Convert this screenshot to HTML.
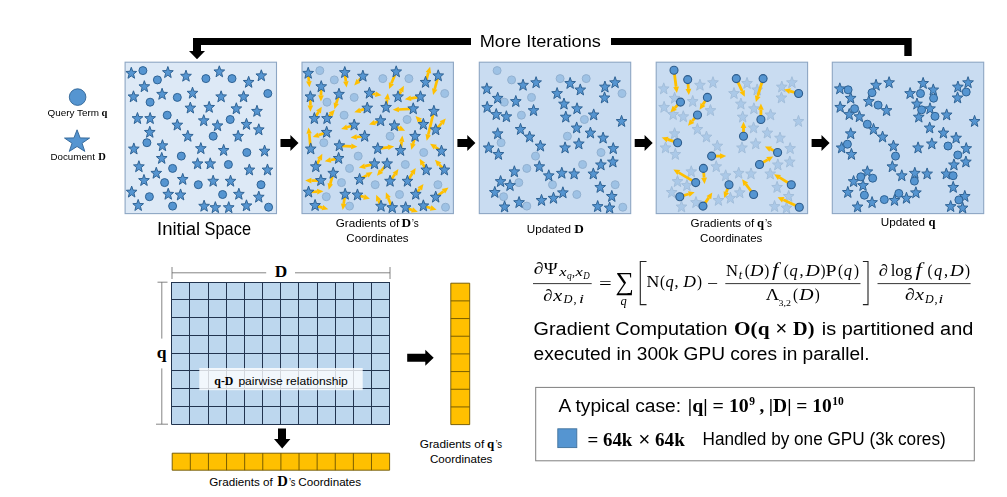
<!DOCTYPE html>
<html><head><meta charset="utf-8"><title>Diagram</title>
<style>html,body{margin:0;padding:0;background:#fff;}body{width:1007px;height:497px;overflow:hidden;font-family:"Liberation Sans",sans-serif;}svg{display:block;}</style>
</head><body>
<svg width="1007" height="497" viewBox="0 0 1007 497">
<rect width="1007" height="497" fill="#fff"/>
<defs><filter id="sb" x="-2%" y="-2%" width="104%" height="104%"><feGaussianBlur stdDeviation="0.38"/></filter></defs>
<g filter="url(#sb)">
<rect x="125.1" y="62.2" width="151.4" height="151.4" fill="#dde9f6" stroke="#8da6c4" stroke-width="1.1"/>
<rect x="302.0" y="62.2" width="151.4" height="151.4" fill="#c9dcf1" stroke="#8da6c4" stroke-width="1.1"/>
<rect x="479.3" y="62.2" width="151.4" height="151.4" fill="#c9dcf1" stroke="#8da6c4" stroke-width="1.1"/>
<rect x="656.2" y="62.2" width="151.4" height="151.4" fill="#c9dcf1" stroke="#8da6c4" stroke-width="1.1"/>
<rect x="832.3" y="62.2" width="151.4" height="151.4" fill="#c9dcf1" stroke="#8da6c4" stroke-width="1.1"/>
<path d="M131.30 67.25 L132.69 71.28 L136.67 71.47 L133.56 74.15 L134.62 78.29 L131.30 75.92 L127.98 78.29 L129.04 74.15 L125.92 71.47 L129.90 71.28Z M167.88 66.53 L169.27 70.56 L173.25 70.75 L170.14 73.42 L171.20 77.57 L167.88 75.19 L164.56 77.57 L165.62 73.42 L162.51 70.75 L166.48 70.56Z M185.99 70.15 L187.38 74.18 L191.36 74.37 L188.25 77.05 L189.31 81.19 L185.99 78.82 L182.67 81.19 L183.73 77.05 L180.62 74.37 L184.59 74.18Z M219.31 65.80 L220.70 69.83 L224.68 70.02 L221.57 72.70 L222.63 76.84 L219.31 74.47 L215.99 76.84 L217.05 72.70 L213.94 70.02 L217.92 69.83Z M248.65 76.31 L250.04 80.34 L254.02 80.52 L250.90 83.20 L251.97 87.35 L248.65 84.97 L245.33 87.35 L246.39 83.20 L243.27 80.52 L247.25 80.34Z M261.32 69.79 L262.72 73.82 L266.70 74.01 L263.58 76.68 L264.64 80.83 L261.32 78.45 L258.00 80.83 L259.07 76.68 L255.95 74.01 L259.93 73.82Z M144.34 80.65 L145.73 84.68 L149.71 84.87 L146.59 87.55 L147.66 91.69 L144.34 89.32 L141.02 91.69 L142.08 87.55 L138.96 84.87 L142.94 84.68Z M133.47 90.80 L134.87 94.82 L138.85 95.01 L135.73 97.69 L136.79 101.83 L133.47 99.46 L130.15 101.83 L131.21 97.69 L128.10 95.01 L132.08 94.82Z M162.08 88.26 L163.48 92.29 L167.46 92.48 L164.34 95.15 L165.41 99.30 L162.08 96.93 L158.76 99.30 L159.83 95.15 L156.71 92.48 L160.69 92.29Z M192.51 87.17 L193.90 91.20 L197.88 91.39 L194.77 94.07 L195.83 98.21 L192.51 95.84 L189.19 98.21 L190.25 94.07 L187.13 91.39 L191.11 91.20Z M221.12 90.80 L222.52 94.82 L226.49 95.01 L223.38 97.69 L224.44 101.83 L221.12 99.46 L217.80 101.83 L218.86 97.69 L215.75 95.01 L219.73 94.82Z M243.58 90.80 L244.97 94.82 L248.95 95.01 L245.83 97.69 L246.90 101.83 L243.58 99.46 L240.26 101.83 L241.32 97.69 L238.20 95.01 L242.18 94.82Z M190.34 102.02 L191.73 106.05 L195.71 106.24 L192.59 108.92 L193.66 113.06 L190.34 110.69 L187.01 113.06 L188.08 108.92 L184.96 106.24 L188.94 106.05Z M209.17 101.30 L210.56 105.33 L214.54 105.52 L211.43 108.19 L212.49 112.34 L209.17 109.96 L205.85 112.34 L206.91 108.19 L203.80 105.52 L207.77 105.33Z M236.33 102.75 L237.73 106.78 L241.71 106.96 L238.59 109.64 L239.65 113.79 L236.33 111.41 L233.01 113.79 L234.08 109.64 L230.96 106.96 L234.94 106.78Z M256.98 105.28 L258.37 109.31 L262.35 109.50 L259.23 112.18 L260.30 116.32 L256.98 113.95 L253.66 116.32 L254.72 112.18 L251.60 109.50 L255.58 109.31Z M137.46 112.53 L138.85 116.56 L142.83 116.74 L139.71 119.42 L140.78 123.57 L137.46 121.19 L134.13 123.57 L135.20 119.42 L132.08 116.74 L136.06 116.56Z M150.13 112.53 L151.53 116.56 L155.51 116.74 L152.39 119.42 L153.45 123.57 L150.13 121.19 L146.81 123.57 L147.88 119.42 L144.76 116.74 L148.74 116.56Z M203.74 114.70 L205.13 118.73 L209.11 118.92 L205.99 121.59 L207.06 125.74 L203.74 123.37 L200.41 125.74 L201.48 121.59 L198.36 118.92 L202.34 118.73Z M177.30 119.05 L178.69 123.08 L182.67 123.26 L179.55 125.94 L180.62 130.09 L177.30 127.71 L173.98 130.09 L175.04 125.94 L171.92 123.26 L175.90 123.08Z M217.50 119.77 L218.89 123.80 L222.87 123.99 L219.76 126.66 L220.82 130.81 L217.50 128.44 L214.18 130.81 L215.24 126.66 L212.13 123.99 L216.10 123.80Z M246.47 118.32 L247.87 122.35 L251.85 122.54 L248.73 125.22 L249.80 129.36 L246.47 126.99 L243.15 129.36 L244.22 125.22 L241.10 122.54 L245.08 122.35Z M258.79 123.75 L260.18 127.78 L264.16 127.97 L261.05 130.65 L262.11 134.79 L258.79 132.42 L255.47 134.79 L256.53 130.65 L253.42 127.97 L257.39 127.78Z M149.77 126.29 L151.16 130.32 L155.14 130.51 L152.03 133.18 L153.09 137.33 L149.77 134.96 L146.45 137.33 L147.51 133.18 L144.40 130.51 L148.38 130.32Z M187.80 130.27 L189.19 134.30 L193.17 134.49 L190.06 137.17 L191.12 141.31 L187.80 138.94 L184.48 141.31 L185.54 137.17 L182.43 134.49 L186.40 134.30Z M238.14 130.27 L239.54 134.30 L243.52 134.49 L240.40 137.17 L241.46 141.31 L238.14 138.94 L234.82 141.31 L235.89 137.17 L232.77 134.49 L236.75 134.30Z M162.45 139.69 L163.84 143.72 L167.82 143.91 L164.70 146.59 L165.77 150.73 L162.45 148.36 L159.13 150.73 L160.19 146.59 L157.07 143.91 L161.05 143.72Z M133.83 142.95 L135.23 146.98 L139.21 147.17 L136.09 149.84 L137.15 153.99 L133.83 151.62 L130.51 153.99 L131.58 149.84 L128.46 147.17 L132.44 146.98Z M200.84 142.59 L202.23 146.62 L206.21 146.81 L203.10 149.48 L204.16 153.63 L200.84 151.25 L197.52 153.63 L198.58 149.48 L195.46 146.81 L199.44 146.62Z M223.66 144.40 L225.05 148.43 L229.03 148.62 L225.91 151.29 L226.98 155.44 L223.66 153.06 L220.34 155.44 L221.40 151.29 L218.28 148.62 L222.26 148.43Z M264.58 145.12 L265.98 149.15 L269.96 149.34 L266.84 152.02 L267.90 156.16 L264.58 153.79 L261.26 156.16 L262.33 152.02 L259.21 149.34 L263.19 149.15Z M161.72 152.37 L163.12 156.40 L167.10 156.58 L163.98 159.26 L165.04 163.41 L161.72 161.03 L158.40 163.41 L159.47 159.26 L156.35 156.58 L160.33 156.40Z M197.58 157.80 L198.97 161.83 L202.95 162.02 L199.84 164.69 L200.90 168.84 L197.58 166.47 L194.26 168.84 L195.32 164.69 L192.21 162.02 L196.18 161.83Z M210.26 157.80 L211.65 161.83 L215.63 162.02 L212.51 164.69 L213.58 168.84 L210.26 166.47 L206.93 168.84 L208.00 164.69 L204.88 162.02 L208.86 161.83Z M138.90 160.70 L140.30 164.73 L144.28 164.91 L141.16 167.59 L142.23 171.74 L138.90 169.36 L135.58 171.74 L136.65 167.59 L133.53 164.91 L137.51 164.73Z M249.37 163.96 L250.77 167.99 L254.75 168.17 L251.63 170.85 L252.69 175.00 L249.37 172.62 L246.05 175.00 L247.11 170.85 L244.00 168.17 L247.98 167.99Z M267.48 163.96 L268.88 167.99 L272.85 168.17 L269.74 170.85 L270.80 175.00 L267.48 172.62 L264.16 175.00 L265.22 170.85 L262.11 168.17 L266.09 167.99Z M156.29 167.22 L157.68 171.25 L161.66 171.43 L158.55 174.11 L159.61 178.26 L156.29 175.88 L152.97 178.26 L154.03 174.11 L150.92 171.43 L154.89 171.25Z M143.98 174.46 L145.37 178.49 L149.35 178.68 L146.23 181.36 L147.30 185.50 L143.98 183.13 L140.65 185.50 L141.72 181.36 L138.60 178.68 L142.58 178.49Z M182.73 173.37 L184.12 177.40 L188.10 177.59 L184.99 180.27 L186.05 184.41 L182.73 182.04 L179.41 184.41 L180.47 180.27 L177.36 177.59 L181.33 177.40Z M213.15 175.19 L214.55 179.21 L218.53 179.40 L215.41 182.08 L216.47 186.22 L213.15 183.85 L209.83 186.22 L210.90 182.08 L207.78 179.40 L211.76 179.21Z M230.54 175.19 L231.93 179.21 L235.91 179.40 L232.79 182.08 L233.86 186.22 L230.54 183.85 L227.22 186.22 L228.28 182.08 L225.16 179.40 L229.14 179.21Z M131.66 186.05 L133.06 190.08 L137.03 190.27 L133.92 192.95 L134.98 197.09 L131.66 194.72 L128.34 197.09 L129.40 192.95 L126.29 190.27 L130.27 190.08Z M168.24 188.22 L169.64 192.25 L173.62 192.44 L170.50 195.12 L171.56 199.26 L168.24 196.89 L164.92 199.26 L165.98 195.12 L162.87 192.44 L166.85 192.25Z M180.56 188.95 L181.95 192.98 L185.93 193.17 L182.81 195.84 L183.88 199.99 L180.56 197.61 L177.23 199.99 L178.30 195.84 L175.18 193.17 L179.16 192.98Z M238.87 188.22 L240.26 192.25 L244.24 192.44 L241.13 195.12 L242.19 199.26 L238.87 196.89 L235.55 199.26 L236.61 195.12 L233.49 192.44 L237.47 192.25Z M258.79 191.12 L260.18 195.15 L264.16 195.34 L261.05 198.02 L262.11 202.16 L258.79 199.79 L255.47 202.16 L256.53 198.02 L253.42 195.34 L257.39 195.15Z M138.18 199.45 L139.57 203.48 L143.55 203.67 L140.44 206.35 L141.50 210.49 L138.18 208.12 L134.86 210.49 L135.92 206.35 L132.81 203.67 L136.79 203.48Z M204.10 200.18 L205.49 204.21 L209.47 204.39 L206.36 207.07 L207.42 211.22 L204.10 208.84 L200.78 211.22 L201.84 207.07 L198.72 204.39 L202.70 204.21Z M215.33 201.63 L216.72 205.65 L220.70 205.84 L217.58 208.52 L218.65 212.66 L215.33 210.29 L212.00 212.66 L213.07 208.52 L209.95 205.84 L213.93 205.65Z M228.73 201.63 L230.12 205.65 L234.10 205.84 L230.98 208.52 L232.05 212.66 L228.73 210.29 L225.41 212.66 L226.47 208.52 L223.35 205.84 L227.33 205.65Z M246.47 199.81 L247.87 203.84 L251.85 204.03 L248.73 206.71 L249.80 210.85 L246.47 208.48 L243.15 210.85 L244.22 206.71 L241.10 204.03 L245.08 203.84Z" fill="#5595d1" stroke="#2f6395" stroke-width="1.0" stroke-linejoin="miter" opacity="1.0"/>
<g fill="#5595d1" stroke="#2f6395" stroke-width="1.0" opacity="1.0"><circle cx="142.9" cy="70.6" r="4.0"/><circle cx="157.4" cy="79.9" r="4.0"/><circle cx="205.9" cy="78.6" r="4.0"/><circle cx="232.0" cy="78.6" r="4.0"/><circle cx="150.1" cy="102.2" r="4.0"/><circle cx="177.3" cy="97.4" r="4.0"/><circle cx="267.8" cy="93.5" r="4.0"/><circle cx="167.2" cy="115.2" r="4.0"/><circle cx="230.2" cy="119.5" r="4.0"/><circle cx="213.2" cy="136.2" r="4.0"/><circle cx="146.9" cy="142.7" r="4.0"/><circle cx="246.8" cy="152.5" r="4.0"/><circle cx="181.3" cy="156.1" r="4.0"/><circle cx="228.4" cy="164.5" r="4.0"/><circle cx="172.6" cy="168.4" r="4.0"/><circle cx="164.6" cy="182.6" r="4.0"/><circle cx="198.3" cy="184.7" r="4.0"/><circle cx="261.0" cy="184.7" r="4.0"/><circle cx="222.6" cy="194.5" r="4.0"/><circle cx="149.4" cy="196.7" r="4.0"/><circle cx="172.6" cy="206.1" r="4.0"/><circle cx="268.6" cy="207.2" r="4.0"/></g>
<g fill="#5595d1" stroke="#2f6395" stroke-width="1.0" opacity="0.36"><circle cx="319.8" cy="70.6" r="4.0"/><circle cx="334.3" cy="79.9" r="4.0"/><circle cx="382.8" cy="78.6" r="4.0"/><circle cx="408.9" cy="78.6" r="4.0"/><circle cx="327.0" cy="102.2" r="4.0"/><circle cx="354.2" cy="97.4" r="4.0"/><circle cx="444.7" cy="93.5" r="4.0"/><circle cx="344.1" cy="115.2" r="4.0"/><circle cx="407.1" cy="119.5" r="4.0"/><circle cx="390.1" cy="136.2" r="4.0"/><circle cx="323.8" cy="142.7" r="4.0"/><circle cx="423.7" cy="152.5" r="4.0"/><circle cx="358.2" cy="156.1" r="4.0"/><circle cx="405.3" cy="164.5" r="4.0"/><circle cx="349.5" cy="168.4" r="4.0"/><circle cx="341.5" cy="182.6" r="4.0"/><circle cx="375.2" cy="184.7" r="4.0"/><circle cx="437.9" cy="184.7" r="4.0"/><circle cx="399.5" cy="194.5" r="4.0"/><circle cx="326.3" cy="196.7" r="4.0"/><circle cx="349.5" cy="206.1" r="4.0"/><circle cx="445.5" cy="207.2" r="4.0"/></g>
<path d="M308.4 75.3L308.9 81.2" stroke="#ffc000" stroke-width="2.7" fill="none"/>
<path d="M309.5 87.3L306.1 81.4L311.7 80.9Z" fill="#ffc000"/>
<path d="M345.0 74.6L345.9 81.4" stroke="#ffc000" stroke-width="2.7" fill="none"/>
<path d="M346.6 87.5L343.1 81.7L348.6 81.0Z" fill="#ffc000"/>
<path d="M361.5 77.7L358.5 80.9" stroke="#ffc000" stroke-width="2.7" fill="none"/>
<path d="M354.2 85.4L356.4 79.0L360.5 82.8Z" fill="#ffc000"/>
<path d="M395.4 73.8L391.4 83.3" stroke="#ffc000" stroke-width="2.7" fill="none"/>
<path d="M389.0 89.1L388.8 82.3L394.0 84.4Z" fill="#ffc000"/>
<path d="M426.1 80.5L428.4 72.7" stroke="#ffc000" stroke-width="2.7" fill="none"/>
<path d="M430.1 66.8L431.1 73.5L425.7 72.0Z" fill="#ffc000"/>
<path d="M437.7 77.8L434.7 89.0" stroke="#ffc000" stroke-width="2.7" fill="none"/>
<path d="M433.1 95.0L432.0 88.3L437.4 89.8Z" fill="#ffc000"/>
<path d="M321.2 88.8L321.0 95.4" stroke="#ffc000" stroke-width="2.7" fill="none"/>
<path d="M320.9 101.6L318.2 95.3L323.8 95.4Z" fill="#ffc000"/>
<path d="M310.4 98.9L310.4 105.6" stroke="#ffc000" stroke-width="2.7" fill="none"/>
<path d="M310.4 111.8L307.6 105.6L313.2 105.6Z" fill="#ffc000"/>
<path d="M338.4 96.3L336.2 103.3" stroke="#ffc000" stroke-width="2.7" fill="none"/>
<path d="M334.4 109.2L333.6 102.4L338.9 104.1Z" fill="#ffc000"/>
<path d="M371.4 93.6L375.5 94.2" stroke="#ffc000" stroke-width="2.7" fill="none"/>
<path d="M381.6 95.2L375.0 97.0L375.9 91.5Z" fill="#ffc000"/>
<path d="M399.0 95.1L401.0 91.3" stroke="#ffc000" stroke-width="2.7" fill="none"/>
<path d="M403.9 85.8L403.4 92.6L398.5 90.0Z" fill="#ffc000"/>
<path d="M418.5 97.2L410.9 98.4" stroke="#ffc000" stroke-width="2.7" fill="none"/>
<path d="M404.8 99.3L410.5 95.6L411.4 101.1Z" fill="#ffc000"/>
<path d="M365.3 108.7L360.2 110.4" stroke="#ffc000" stroke-width="2.7" fill="none"/>
<path d="M354.3 112.2L359.4 107.7L361.1 113.0Z" fill="#ffc000"/>
<path d="M386.3 105.4L387.1 99.5" stroke="#ffc000" stroke-width="2.7" fill="none"/>
<path d="M387.9 93.3L389.9 99.8L384.3 99.1Z" fill="#ffc000"/>
<path d="M411.2 108.9L398.9 109.5" stroke="#ffc000" stroke-width="2.7" fill="none"/>
<path d="M392.7 109.7L398.8 106.7L399.0 112.3Z" fill="#ffc000"/>
<path d="M433.4 113.3L428.2 134.7" stroke="#ffc000" stroke-width="2.7" fill="none"/>
<path d="M426.7 140.7L425.5 134.0L430.9 135.4Z" fill="#ffc000"/>
<path d="M315.4 116.9L318.5 112.1" stroke="#ffc000" stroke-width="2.7" fill="none"/>
<path d="M321.8 106.8L320.9 113.6L316.1 110.6Z" fill="#ffc000"/>
<path d="M328.4 117.1L330.7 114.5" stroke="#ffc000" stroke-width="2.7" fill="none"/>
<path d="M334.8 109.8L332.8 116.3L328.6 112.6Z" fill="#ffc000"/>
<path d="M378.7 121.4L374.9 122.7" stroke="#ffc000" stroke-width="2.7" fill="none"/>
<path d="M369.0 124.6L374.0 120.0L375.8 125.3Z" fill="#ffc000"/>
<path d="M352.3 125.7L347.0 127.2" stroke="#ffc000" stroke-width="2.7" fill="none"/>
<path d="M341.1 128.9L346.3 124.5L347.8 129.9Z" fill="#ffc000"/>
<path d="M396.2 126.7L399.5 128.2" stroke="#ffc000" stroke-width="2.7" fill="none"/>
<path d="M405.1 130.7L398.3 130.7L400.6 125.6Z" fill="#ffc000"/>
<path d="M422.0 123.0L419.7 120.5" stroke="#ffc000" stroke-width="2.7" fill="none"/>
<path d="M415.5 116.0L421.8 118.6L417.7 122.4Z" fill="#ffc000"/>
<path d="M437.0 128.4L441.7 123.1" stroke="#ffc000" stroke-width="2.7" fill="none"/>
<path d="M445.8 118.5L443.8 125.0L439.6 121.2Z" fill="#ffc000"/>
<path d="M324.8 133.0L318.5 135.1" stroke="#ffc000" stroke-width="2.7" fill="none"/>
<path d="M312.7 137.1L317.6 132.5L319.4 137.8Z" fill="#ffc000"/>
<path d="M362.7 136.5L356.8 137.0" stroke="#ffc000" stroke-width="2.7" fill="none"/>
<path d="M350.6 137.4L356.6 134.2L357.0 139.8Z" fill="#ffc000"/>
<path d="M414.5 138.3L413.0 143.8" stroke="#ffc000" stroke-width="2.7" fill="none"/>
<path d="M411.3 149.8L410.3 143.1L415.7 144.6Z" fill="#ffc000"/>
<path d="M341.3 145.9L351.3 146.4" stroke="#ffc000" stroke-width="2.7" fill="none"/>
<path d="M357.4 146.7L351.1 149.2L351.4 143.6Z" fill="#ffc000"/>
<path d="M310.5 147.1L309.2 133.5" stroke="#ffc000" stroke-width="2.7" fill="none"/>
<path d="M308.5 127.4L311.9 133.2L306.4 133.8Z" fill="#ffc000"/>
<path d="M379.7 148.4L388.1 147.3" stroke="#ffc000" stroke-width="2.7" fill="none"/>
<path d="M394.2 146.5L388.4 150.1L387.7 144.6Z" fill="#ffc000"/>
<path d="M400.8 148.5L401.6 141.8" stroke="#ffc000" stroke-width="2.7" fill="none"/>
<path d="M402.4 135.6L404.4 142.1L398.9 141.4Z" fill="#ffc000"/>
<path d="M439.8 150.1L435.3 147.1" stroke="#ffc000" stroke-width="2.7" fill="none"/>
<path d="M430.1 143.7L436.8 144.8L433.7 149.5Z" fill="#ffc000"/>
<path d="M336.7 158.9L330.7 160.0" stroke="#ffc000" stroke-width="2.7" fill="none"/>
<path d="M324.7 161.3L330.2 157.3L331.3 162.8Z" fill="#ffc000"/>
<path d="M372.5 164.4L365.0 166.1" stroke="#ffc000" stroke-width="2.7" fill="none"/>
<path d="M358.9 167.6L364.3 163.4L365.6 168.9Z" fill="#ffc000"/>
<path d="M385.9 165.4L381.0 171.1" stroke="#ffc000" stroke-width="2.7" fill="none"/>
<path d="M377.0 175.8L378.9 169.3L383.1 172.9Z" fill="#ffc000"/>
<path d="M316.7 165.0L319.5 159.3" stroke="#ffc000" stroke-width="2.7" fill="none"/>
<path d="M322.3 153.7L322.0 160.5L317.0 158.0Z" fill="#ffc000"/>
<path d="M425.3 168.3L422.8 164.1" stroke="#ffc000" stroke-width="2.7" fill="none"/>
<path d="M419.7 158.7L425.2 162.7L420.4 165.5Z" fill="#ffc000"/>
<path d="M443.0 168.6L439.2 164.4" stroke="#ffc000" stroke-width="2.7" fill="none"/>
<path d="M435.0 159.8L441.3 162.5L437.1 166.3Z" fill="#ffc000"/>
<path d="M332.7 175.2L330.3 183.8" stroke="#ffc000" stroke-width="2.7" fill="none"/>
<path d="M328.7 189.7L327.6 183.0L333.0 184.5Z" fill="#ffc000"/>
<path d="M318.9 180.6L311.4 180.6" stroke="#ffc000" stroke-width="2.7" fill="none"/>
<path d="M305.2 180.6L311.4 177.8L311.4 183.4Z" fill="#ffc000"/>
<path d="M361.4 178.5L367.2 175.1" stroke="#ffc000" stroke-width="2.7" fill="none"/>
<path d="M372.6 172.0L368.6 177.5L365.8 172.7Z" fill="#ffc000"/>
<path d="M391.2 179.6L394.9 174.3" stroke="#ffc000" stroke-width="2.7" fill="none"/>
<path d="M398.4 169.1L397.2 175.8L392.6 172.7Z" fill="#ffc000"/>
<path d="M408.5 179.6L412.4 173.3" stroke="#ffc000" stroke-width="2.7" fill="none"/>
<path d="M415.7 168.0L414.8 174.7L410.0 171.8Z" fill="#ffc000"/>
<path d="M310.6 192.0L317.2 191.6" stroke="#ffc000" stroke-width="2.7" fill="none"/>
<path d="M323.4 191.2L317.3 194.4L317.0 188.8Z" fill="#ffc000"/>
<path d="M344.8 196.3L343.7 203.9" stroke="#ffc000" stroke-width="2.7" fill="none"/>
<path d="M342.7 210.0L340.9 203.5L346.4 204.3Z" fill="#ffc000"/>
<path d="M359.4 195.6L363.9 197.0" stroke="#ffc000" stroke-width="2.7" fill="none"/>
<path d="M369.9 198.8L363.1 199.7L364.8 194.3Z" fill="#ffc000"/>
<path d="M417.0 192.7L419.8 188.9" stroke="#ffc000" stroke-width="2.7" fill="none"/>
<path d="M423.5 183.9L422.0 190.6L417.5 187.2Z" fill="#ffc000"/>
<path d="M437.3 196.0L443.5 191.3" stroke="#ffc000" stroke-width="2.7" fill="none"/>
<path d="M448.5 187.6L445.2 193.6L441.8 189.1Z" fill="#ffc000"/>
<path d="M317.0 206.1L322.3 207.6" stroke="#ffc000" stroke-width="2.7" fill="none"/>
<path d="M328.3 209.3L321.6 210.3L323.1 204.9Z" fill="#ffc000"/>
<path d="M380.2 204.4L378.6 200.6" stroke="#ffc000" stroke-width="2.7" fill="none"/>
<path d="M376.2 194.8L381.2 199.5L376.0 201.6Z" fill="#ffc000"/>
<path d="M391.5 205.9L388.2 197.9" stroke="#ffc000" stroke-width="2.7" fill="none"/>
<path d="M385.9 192.2L390.8 196.9L385.6 199.0Z" fill="#ffc000"/>
<path d="M407.5 208.4L412.1 210.0" stroke="#ffc000" stroke-width="2.7" fill="none"/>
<path d="M417.9 212.0L411.1 212.6L413.0 207.3Z" fill="#ffc000"/>
<path d="M425.3 206.5L430.6 208.0" stroke="#ffc000" stroke-width="2.7" fill="none"/>
<path d="M436.6 209.7L429.9 210.7L431.4 205.3Z" fill="#ffc000"/>
<path d="M308.20 67.25 L309.59 71.28 L313.57 71.47 L310.46 74.15 L311.52 78.29 L308.20 75.92 L304.88 78.29 L305.94 74.15 L302.82 71.47 L306.80 71.28Z M344.78 66.53 L346.17 70.56 L350.15 70.75 L347.04 73.42 L348.10 77.57 L344.78 75.19 L341.46 77.57 L342.52 73.42 L339.41 70.75 L343.38 70.56Z M362.89 70.15 L364.28 74.18 L368.26 74.37 L365.15 77.05 L366.21 81.19 L362.89 78.82 L359.57 81.19 L360.63 77.05 L357.52 74.37 L361.49 74.18Z M396.21 65.80 L397.60 69.83 L401.58 70.02 L398.47 72.70 L399.53 76.84 L396.21 74.47 L392.89 76.84 L393.95 72.70 L390.84 70.02 L394.82 69.83Z M425.55 76.31 L426.94 80.34 L430.92 80.52 L427.80 83.20 L428.87 87.35 L425.55 84.97 L422.23 87.35 L423.29 83.20 L420.17 80.52 L424.15 80.34Z M438.22 69.79 L439.62 73.82 L443.60 74.01 L440.48 76.68 L441.54 80.83 L438.22 78.45 L434.90 80.83 L435.97 76.68 L432.85 74.01 L436.83 73.82Z M321.24 80.65 L322.63 84.68 L326.61 84.87 L323.49 87.55 L324.56 91.69 L321.24 89.32 L317.92 91.69 L318.98 87.55 L315.86 84.87 L319.84 84.68Z M310.37 90.80 L311.77 94.82 L315.75 95.01 L312.63 97.69 L313.69 101.83 L310.37 99.46 L307.05 101.83 L308.11 97.69 L305.00 95.01 L308.98 94.82Z M338.98 88.26 L340.38 92.29 L344.36 92.48 L341.24 95.15 L342.31 99.30 L338.98 96.93 L335.66 99.30 L336.73 95.15 L333.61 92.48 L337.59 92.29Z M369.41 87.17 L370.80 91.20 L374.78 91.39 L371.67 94.07 L372.73 98.21 L369.41 95.84 L366.09 98.21 L367.15 94.07 L364.03 91.39 L368.01 91.20Z M398.02 90.80 L399.42 94.82 L403.39 95.01 L400.28 97.69 L401.34 101.83 L398.02 99.46 L394.70 101.83 L395.76 97.69 L392.65 95.01 L396.63 94.82Z M420.48 90.80 L421.87 94.82 L425.85 95.01 L422.73 97.69 L423.80 101.83 L420.48 99.46 L417.16 101.83 L418.22 97.69 L415.10 95.01 L419.08 94.82Z M367.24 102.02 L368.63 106.05 L372.61 106.24 L369.49 108.92 L370.56 113.06 L367.24 110.69 L363.91 113.06 L364.98 108.92 L361.86 106.24 L365.84 106.05Z M386.07 101.30 L387.46 105.33 L391.44 105.52 L388.33 108.19 L389.39 112.34 L386.07 109.96 L382.75 112.34 L383.81 108.19 L380.70 105.52 L384.67 105.33Z M413.23 102.75 L414.63 106.78 L418.61 106.96 L415.49 109.64 L416.55 113.79 L413.23 111.41 L409.91 113.79 L410.98 109.64 L407.86 106.96 L411.84 106.78Z M433.88 105.28 L435.27 109.31 L439.25 109.50 L436.13 112.18 L437.20 116.32 L433.88 113.95 L430.56 116.32 L431.62 112.18 L428.50 109.50 L432.48 109.31Z M314.36 112.53 L315.75 116.56 L319.73 116.74 L316.61 119.42 L317.68 123.57 L314.36 121.19 L311.03 123.57 L312.10 119.42 L308.98 116.74 L312.96 116.56Z M327.03 112.53 L328.43 116.56 L332.41 116.74 L329.29 119.42 L330.35 123.57 L327.03 121.19 L323.71 123.57 L324.78 119.42 L321.66 116.74 L325.64 116.56Z M380.64 114.70 L382.03 118.73 L386.01 118.92 L382.89 121.59 L383.96 125.74 L380.64 123.37 L377.31 125.74 L378.38 121.59 L375.26 118.92 L379.24 118.73Z M354.20 119.05 L355.59 123.08 L359.57 123.26 L356.45 125.94 L357.52 130.09 L354.20 127.71 L350.88 130.09 L351.94 125.94 L348.82 123.26 L352.80 123.08Z M394.40 119.77 L395.79 123.80 L399.77 123.99 L396.66 126.66 L397.72 130.81 L394.40 128.44 L391.08 130.81 L392.14 126.66 L389.03 123.99 L393.00 123.80Z M423.37 118.32 L424.77 122.35 L428.75 122.54 L425.63 125.22 L426.70 129.36 L423.37 126.99 L420.05 129.36 L421.12 125.22 L418.00 122.54 L421.98 122.35Z M435.69 123.75 L437.08 127.78 L441.06 127.97 L437.95 130.65 L439.01 134.79 L435.69 132.42 L432.37 134.79 L433.43 130.65 L430.32 127.97 L434.29 127.78Z M326.67 126.29 L328.06 130.32 L332.04 130.51 L328.93 133.18 L329.99 137.33 L326.67 134.96 L323.35 137.33 L324.41 133.18 L321.30 130.51 L325.28 130.32Z M364.70 130.27 L366.09 134.30 L370.07 134.49 L366.96 137.17 L368.02 141.31 L364.70 138.94 L361.38 141.31 L362.44 137.17 L359.33 134.49 L363.30 134.30Z M415.04 130.27 L416.44 134.30 L420.42 134.49 L417.30 137.17 L418.36 141.31 L415.04 138.94 L411.72 141.31 L412.79 137.17 L409.67 134.49 L413.65 134.30Z M339.35 139.69 L340.74 143.72 L344.72 143.91 L341.60 146.59 L342.67 150.73 L339.35 148.36 L336.03 150.73 L337.09 146.59 L333.97 143.91 L337.95 143.72Z M310.73 142.95 L312.13 146.98 L316.11 147.17 L312.99 149.84 L314.05 153.99 L310.73 151.62 L307.41 153.99 L308.48 149.84 L305.36 147.17 L309.34 146.98Z M377.74 142.59 L379.13 146.62 L383.11 146.81 L380.00 149.48 L381.06 153.63 L377.74 151.25 L374.42 153.63 L375.48 149.48 L372.36 146.81 L376.34 146.62Z M400.56 144.40 L401.95 148.43 L405.93 148.62 L402.81 151.29 L403.88 155.44 L400.56 153.06 L397.24 155.44 L398.30 151.29 L395.18 148.62 L399.16 148.43Z M441.48 145.12 L442.88 149.15 L446.86 149.34 L443.74 152.02 L444.80 156.16 L441.48 153.79 L438.16 156.16 L439.23 152.02 L436.11 149.34 L440.09 149.15Z M338.62 152.37 L340.02 156.40 L344.00 156.58 L340.88 159.26 L341.94 163.41 L338.62 161.03 L335.30 163.41 L336.37 159.26 L333.25 156.58 L337.23 156.40Z M374.48 157.80 L375.87 161.83 L379.85 162.02 L376.74 164.69 L377.80 168.84 L374.48 166.47 L371.16 168.84 L372.22 164.69 L369.11 162.02 L373.08 161.83Z M387.16 157.80 L388.55 161.83 L392.53 162.02 L389.41 164.69 L390.48 168.84 L387.16 166.47 L383.83 168.84 L384.90 164.69 L381.78 162.02 L385.76 161.83Z M315.80 160.70 L317.20 164.73 L321.18 164.91 L318.06 167.59 L319.13 171.74 L315.80 169.36 L312.48 171.74 L313.55 167.59 L310.43 164.91 L314.41 164.73Z M426.27 163.96 L427.67 167.99 L431.65 168.17 L428.53 170.85 L429.59 175.00 L426.27 172.62 L422.95 175.00 L424.01 170.85 L420.90 168.17 L424.88 167.99Z M444.38 163.96 L445.78 167.99 L449.75 168.17 L446.64 170.85 L447.70 175.00 L444.38 172.62 L441.06 175.00 L442.12 170.85 L439.01 168.17 L442.99 167.99Z M333.19 167.22 L334.58 171.25 L338.56 171.43 L335.45 174.11 L336.51 178.26 L333.19 175.88 L329.87 178.26 L330.93 174.11 L327.82 171.43 L331.79 171.25Z M320.88 174.46 L322.27 178.49 L326.25 178.68 L323.13 181.36 L324.20 185.50 L320.88 183.13 L317.55 185.50 L318.62 181.36 L315.50 178.68 L319.48 178.49Z M359.63 173.37 L361.02 177.40 L365.00 177.59 L361.89 180.27 L362.95 184.41 L359.63 182.04 L356.31 184.41 L357.37 180.27 L354.26 177.59 L358.23 177.40Z M390.05 175.19 L391.45 179.21 L395.43 179.40 L392.31 182.08 L393.37 186.22 L390.05 183.85 L386.73 186.22 L387.80 182.08 L384.68 179.40 L388.66 179.21Z M407.44 175.19 L408.83 179.21 L412.81 179.40 L409.69 182.08 L410.76 186.22 L407.44 183.85 L404.12 186.22 L405.18 182.08 L402.06 179.40 L406.04 179.21Z M308.56 186.05 L309.96 190.08 L313.93 190.27 L310.82 192.95 L311.88 197.09 L308.56 194.72 L305.24 197.09 L306.30 192.95 L303.19 190.27 L307.17 190.08Z M345.14 188.22 L346.54 192.25 L350.52 192.44 L347.40 195.12 L348.46 199.26 L345.14 196.89 L341.82 199.26 L342.88 195.12 L339.77 192.44 L343.75 192.25Z M357.46 188.95 L358.85 192.98 L362.83 193.17 L359.71 195.84 L360.78 199.99 L357.46 197.61 L354.13 199.99 L355.20 195.84 L352.08 193.17 L356.06 192.98Z M415.77 188.22 L417.16 192.25 L421.14 192.44 L418.03 195.12 L419.09 199.26 L415.77 196.89 L412.45 199.26 L413.51 195.12 L410.39 192.44 L414.37 192.25Z M435.69 191.12 L437.08 195.15 L441.06 195.34 L437.95 198.02 L439.01 202.16 L435.69 199.79 L432.37 202.16 L433.43 198.02 L430.32 195.34 L434.29 195.15Z M315.08 199.45 L316.47 203.48 L320.45 203.67 L317.34 206.35 L318.40 210.49 L315.08 208.12 L311.76 210.49 L312.82 206.35 L309.71 203.67 L313.69 203.48Z M381.00 200.18 L382.39 204.21 L386.37 204.39 L383.26 207.07 L384.32 211.22 L381.00 208.84 L377.68 211.22 L378.74 207.07 L375.62 204.39 L379.60 204.21Z M392.23 201.63 L393.62 205.65 L397.60 205.84 L394.48 208.52 L395.55 212.66 L392.23 210.29 L388.90 212.66 L389.97 208.52 L386.85 205.84 L390.83 205.65Z M405.63 201.63 L407.02 205.65 L411.00 205.84 L407.88 208.52 L408.95 212.66 L405.63 210.29 L402.31 212.66 L403.37 208.52 L400.25 205.84 L404.23 205.65Z M423.37 199.81 L424.77 203.84 L428.75 204.03 L425.63 206.71 L426.70 210.85 L423.37 208.48 L420.05 210.85 L421.12 206.71 L418.00 204.03 L421.98 203.84Z" fill="#5595d1" stroke="#2f6395" stroke-width="1.0" stroke-linejoin="miter" opacity="1.0"/>
<g fill="#5595d1" stroke="#2f6395" stroke-width="1.0" opacity="0.36"><circle cx="497.1" cy="70.6" r="4.0"/><circle cx="511.6" cy="79.9" r="4.0"/><circle cx="560.1" cy="78.6" r="4.0"/><circle cx="586.2" cy="78.6" r="4.0"/><circle cx="504.3" cy="102.2" r="4.0"/><circle cx="531.5" cy="97.4" r="4.0"/><circle cx="622.0" cy="93.5" r="4.0"/><circle cx="521.4" cy="115.2" r="4.0"/><circle cx="584.4" cy="119.5" r="4.0"/><circle cx="567.4" cy="136.2" r="4.0"/><circle cx="501.1" cy="142.7" r="4.0"/><circle cx="601.0" cy="152.5" r="4.0"/><circle cx="535.5" cy="156.1" r="4.0"/><circle cx="582.6" cy="164.5" r="4.0"/><circle cx="526.8" cy="168.4" r="4.0"/><circle cx="518.8" cy="182.6" r="4.0"/><circle cx="552.5" cy="184.7" r="4.0"/><circle cx="615.2" cy="184.7" r="4.0"/><circle cx="576.8" cy="194.5" r="4.0"/><circle cx="503.6" cy="196.7" r="4.0"/><circle cx="526.8" cy="206.1" r="4.0"/><circle cx="622.8" cy="207.2" r="4.0"/></g>
<path d="M486.83 82.83 L488.23 86.86 L492.21 87.04 L489.09 89.72 L490.15 93.87 L486.83 91.49 L483.51 93.87 L484.58 89.72 L481.46 87.04 L485.44 86.86Z M497.70 92.24 L499.09 96.27 L503.07 96.46 L499.96 99.14 L501.02 103.28 L497.70 100.91 L494.38 103.28 L495.44 99.14 L492.33 96.46 L496.30 96.27Z M487.20 101.30 L488.59 105.33 L492.57 105.52 L489.45 108.19 L490.52 112.34 L487.20 109.96 L483.87 112.34 L484.94 108.19 L481.82 105.52 L485.80 105.33Z M496.25 108.54 L497.65 112.57 L501.62 112.76 L498.51 115.44 L499.57 119.58 L496.25 117.21 L492.93 119.58 L493.99 115.44 L490.88 112.76 L494.86 112.57Z M506.39 110.72 L507.79 114.74 L511.77 114.93 L508.65 117.61 L509.71 121.75 L506.39 119.38 L503.07 121.75 L504.14 117.61 L501.02 114.93 L505.00 114.74Z M515.81 95.50 L517.20 99.53 L521.18 99.72 L518.07 102.40 L519.13 106.54 L515.81 104.17 L512.49 106.54 L513.55 102.40 L510.44 99.72 L514.41 99.53Z M523.05 79.21 L524.45 83.23 L528.43 83.42 L525.31 86.10 L526.37 90.24 L523.05 87.87 L519.73 90.24 L520.80 86.10 L517.68 83.42 L521.66 83.23Z M536.09 76.67 L537.49 80.70 L541.46 80.89 L538.35 83.56 L539.41 87.71 L536.09 85.34 L532.77 87.71 L533.83 83.56 L530.72 80.89 L534.70 80.70Z M533.56 104.56 L534.95 108.59 L538.93 108.78 L535.81 111.45 L536.88 115.60 L533.56 113.22 L530.23 115.60 L531.30 111.45 L528.18 108.78 L532.16 108.59Z M520.52 123.39 L521.91 127.42 L525.89 127.61 L522.77 130.29 L523.84 134.43 L520.52 132.06 L517.20 134.43 L518.26 130.29 L515.14 127.61 L519.12 127.42Z M497.70 127.74 L499.09 131.77 L503.07 131.96 L499.96 134.63 L501.02 138.78 L497.70 136.40 L494.38 138.78 L495.44 134.63 L492.33 131.96 L496.30 131.77Z M529.57 131.00 L530.97 135.03 L534.95 135.22 L531.83 137.89 L532.89 142.04 L529.57 139.66 L526.25 142.04 L527.32 137.89 L524.20 135.22 L528.18 135.03Z M540.44 140.05 L541.83 144.08 L545.81 144.27 L542.69 146.95 L543.76 151.09 L540.44 148.72 L537.12 151.09 L538.18 146.95 L535.06 144.27 L539.04 144.08Z M488.64 141.86 L490.04 145.89 L494.02 146.08 L490.90 148.76 L491.97 152.90 L488.64 150.53 L485.32 152.90 L486.39 148.76 L483.27 146.08 L487.25 145.89Z M498.42 148.38 L499.82 152.41 L503.80 152.60 L500.68 155.28 L501.74 159.42 L498.42 157.05 L495.10 159.42 L496.17 155.28 L493.05 152.60 L497.03 152.41Z M514.36 165.77 L515.75 169.80 L519.73 169.99 L516.62 172.66 L517.68 176.81 L514.36 174.43 L511.04 176.81 L512.10 172.66 L508.99 169.99 L512.97 169.80Z M539.35 160.70 L540.75 164.73 L544.72 164.91 L541.61 167.59 L542.67 171.74 L539.35 169.36 L536.03 171.74 L537.09 167.59 L533.98 164.91 L537.96 164.73Z M548.77 169.75 L550.16 173.78 L554.14 173.97 L551.02 176.65 L552.09 180.79 L548.77 178.42 L545.45 180.79 L546.51 176.65 L543.39 173.97 L547.37 173.78Z M561.81 167.22 L563.20 171.25 L567.18 171.43 L564.06 174.11 L565.13 178.26 L561.81 175.88 L558.49 178.26 L559.55 174.11 L556.43 171.43 L560.41 171.25Z M574.12 167.94 L575.52 171.97 L579.49 172.16 L576.38 174.84 L577.44 178.98 L574.12 176.61 L570.80 178.98 L571.86 174.84 L568.75 172.16 L572.73 171.97Z M500.60 175.55 L501.99 179.58 L505.97 179.76 L502.85 182.44 L503.92 186.59 L500.60 184.21 L497.28 186.59 L498.34 182.44 L495.22 179.76 L499.20 179.58Z M510.01 179.53 L511.41 183.56 L515.39 183.75 L512.27 186.43 L513.33 190.57 L510.01 188.20 L506.69 190.57 L507.76 186.43 L504.64 183.75 L508.62 183.56Z M494.80 186.41 L496.20 190.44 L500.18 190.63 L497.06 193.31 L498.12 197.45 L494.80 195.08 L491.48 197.45 L492.55 193.31 L489.43 190.63 L493.41 190.44Z M504.58 200.90 L505.98 204.93 L509.95 205.12 L506.84 207.79 L507.90 211.94 L504.58 209.57 L501.26 211.94 L502.32 207.79 L499.21 205.12 L503.19 204.93Z M519.07 196.55 L520.46 200.58 L524.44 200.77 L521.33 203.45 L522.39 207.59 L519.07 205.22 L515.75 207.59 L516.81 203.45 L513.69 200.77 L517.67 200.58Z M541.52 194.38 L542.92 198.41 L546.90 198.60 L543.78 201.28 L544.85 205.42 L541.52 203.05 L538.20 205.42 L539.27 201.28 L536.15 198.60 L540.13 198.41Z M553.48 192.21 L554.87 196.24 L558.85 196.42 L555.73 199.10 L556.80 203.25 L553.48 200.87 L550.16 203.25 L551.22 199.10 L548.10 196.42 L552.08 196.24Z M562.89 186.78 L564.29 190.80 L568.27 190.99 L565.15 193.67 L566.21 197.81 L562.89 195.44 L559.57 197.81 L560.64 193.67 L557.52 190.99 L561.50 190.80Z M557.10 87.54 L558.49 91.56 L562.47 91.75 L559.36 94.43 L560.42 98.57 L557.10 96.20 L553.78 98.57 L554.84 94.43 L551.72 91.75 L555.70 91.56Z M570.14 77.39 L571.53 81.42 L575.51 81.61 L572.39 84.29 L573.46 88.43 L570.14 86.06 L566.82 88.43 L567.88 84.29 L564.76 81.61 L568.74 81.42Z M580.28 83.91 L581.67 87.94 L585.65 88.13 L582.54 90.81 L583.60 94.95 L580.28 92.58 L576.96 94.95 L578.02 90.81 L574.90 88.13 L578.88 87.94Z M563.98 98.04 L565.37 102.07 L569.35 102.26 L566.24 104.93 L567.30 109.08 L563.98 106.70 L560.66 109.08 L561.72 104.93 L558.61 102.26 L562.58 102.07Z M577.02 102.75 L578.41 106.78 L582.39 106.96 L579.28 109.64 L580.34 113.79 L577.02 111.41 L573.70 113.79 L574.76 109.64 L571.65 106.96 L575.62 106.78Z M565.79 111.08 L567.19 115.11 L571.16 115.29 L568.05 117.97 L569.11 122.12 L565.79 119.74 L562.47 122.12 L563.53 117.97 L560.42 115.29 L564.40 115.11Z M576.66 121.94 L578.05 125.97 L582.03 126.16 L578.91 128.84 L579.98 132.98 L576.66 130.61 L573.34 132.98 L574.40 128.84 L571.28 126.16 L575.26 125.97Z M593.68 108.91 L595.07 112.93 L599.05 113.12 L595.94 115.80 L597.00 119.94 L593.68 117.57 L590.36 119.94 L591.42 115.80 L588.31 113.12 L592.28 112.93Z M590.42 127.01 L591.81 131.04 L595.79 131.23 L592.68 133.91 L593.74 138.05 L590.42 135.68 L587.10 138.05 L588.16 133.91 L585.05 131.23 L589.02 131.04Z M603.10 132.09 L604.49 136.11 L608.47 136.30 L605.35 138.98 L606.42 143.12 L603.10 140.75 L599.77 143.12 L600.84 138.98 L597.72 136.30 L601.70 136.11Z M578.83 137.88 L580.22 141.91 L584.20 142.10 L581.09 144.77 L582.15 148.92 L578.83 146.55 L575.51 148.92 L576.57 144.77 L573.46 142.10 L577.43 141.91Z M565.07 141.86 L566.46 145.89 L570.44 146.08 L567.32 148.76 L568.39 152.90 L565.07 150.53 L561.75 152.90 L562.81 148.76 L559.69 146.08 L563.67 145.89Z M613.24 142.59 L614.63 146.62 L618.61 146.81 L615.49 149.48 L616.56 153.63 L613.24 151.25 L609.92 153.63 L610.98 149.48 L607.86 146.81 L611.84 146.62Z M612.88 155.99 L614.27 160.02 L618.25 160.21 L615.13 162.88 L616.20 167.03 L612.88 164.65 L609.55 167.03 L610.62 162.88 L607.50 160.21 L611.48 160.02Z M600.92 158.89 L602.32 162.92 L606.30 163.10 L603.18 165.78 L604.24 169.93 L600.92 167.55 L597.60 169.93 L598.67 165.78 L595.55 163.10 L599.53 162.92Z M593.32 167.94 L594.71 171.97 L598.69 172.16 L595.57 174.84 L596.64 178.98 L593.32 176.61 L590.00 178.98 L591.06 174.84 L587.94 172.16 L591.92 171.97Z M600.20 181.34 L601.59 185.37 L605.57 185.56 L602.46 188.24 L603.52 192.38 L600.20 190.01 L596.88 192.38 L597.94 188.24 L594.83 185.56 L598.80 185.37Z M611.79 190.40 L613.18 194.43 L617.16 194.61 L614.05 197.29 L615.11 201.44 L611.79 199.06 L608.47 201.44 L609.53 197.29 L606.42 194.61 L610.39 194.43Z M597.66 200.54 L599.06 204.57 L603.04 204.76 L599.92 207.43 L600.98 211.58 L597.66 209.20 L594.34 211.58 L595.41 207.43 L592.29 204.76 L596.27 204.57Z M609.62 201.99 L611.01 206.02 L614.99 206.20 L611.87 208.88 L612.94 213.03 L609.62 210.65 L606.29 213.03 L607.36 208.88 L604.24 206.20 L608.22 206.02Z M604.91 81.02 L606.30 85.05 L610.28 85.23 L607.16 87.91 L608.23 92.06 L604.91 89.68 L601.59 92.06 L602.65 87.91 L599.53 85.23 L603.51 85.05Z M615.05 76.67 L616.44 80.70 L620.42 80.89 L617.31 83.56 L618.37 87.71 L615.05 85.34 L611.73 87.71 L612.79 83.56 L609.67 80.89 L613.65 80.70Z M604.54 91.88 L605.94 95.91 L609.92 96.10 L606.80 98.78 L607.87 102.92 L604.54 100.55 L601.22 102.92 L602.29 98.78 L599.17 96.10 L603.15 95.91Z M621.57 115.42 L622.96 119.45 L626.94 119.64 L623.82 122.32 L624.89 126.46 L621.57 124.09 L618.25 126.46 L619.31 122.32 L616.19 119.64 L620.17 119.45Z" fill="#5595d1" stroke="#2f6395" stroke-width="1.0" stroke-linejoin="miter" opacity="1.0"/>
<path d="M663.73 82.83 L665.13 86.86 L669.11 87.04 L665.99 89.72 L667.05 93.87 L663.73 91.49 L660.41 93.87 L661.48 89.72 L658.36 87.04 L662.34 86.86Z M674.60 92.24 L675.99 96.27 L679.97 96.46 L676.86 99.14 L677.92 103.28 L674.60 100.91 L671.28 103.28 L672.34 99.14 L669.23 96.46 L673.20 96.27Z M664.10 101.30 L665.49 105.33 L669.47 105.52 L666.35 108.19 L667.42 112.34 L664.10 109.96 L660.77 112.34 L661.84 108.19 L658.72 105.52 L662.70 105.33Z M673.15 108.54 L674.55 112.57 L678.52 112.76 L675.41 115.44 L676.47 119.58 L673.15 117.21 L669.83 119.58 L670.89 115.44 L667.78 112.76 L671.76 112.57Z M683.29 110.72 L684.69 114.74 L688.67 114.93 L685.55 117.61 L686.61 121.75 L683.29 119.38 L679.97 121.75 L681.04 117.61 L677.92 114.93 L681.90 114.74Z M692.71 95.50 L694.10 99.53 L698.08 99.72 L694.97 102.40 L696.03 106.54 L692.71 104.17 L689.39 106.54 L690.45 102.40 L687.34 99.72 L691.31 99.53Z M699.95 79.21 L701.35 83.23 L705.33 83.42 L702.21 86.10 L703.27 90.24 L699.95 87.87 L696.63 90.24 L697.70 86.10 L694.58 83.42 L698.56 83.23Z M712.99 76.67 L714.39 80.70 L718.36 80.89 L715.25 83.56 L716.31 87.71 L712.99 85.34 L709.67 87.71 L710.73 83.56 L707.62 80.89 L711.60 80.70Z M710.46 104.56 L711.85 108.59 L715.83 108.78 L712.71 111.45 L713.78 115.60 L710.46 113.22 L707.13 115.60 L708.20 111.45 L705.08 108.78 L709.06 108.59Z M697.42 123.39 L698.81 127.42 L702.79 127.61 L699.67 130.29 L700.74 134.43 L697.42 132.06 L694.10 134.43 L695.16 130.29 L692.04 127.61 L696.02 127.42Z M674.60 127.74 L675.99 131.77 L679.97 131.96 L676.86 134.63 L677.92 138.78 L674.60 136.40 L671.28 138.78 L672.34 134.63 L669.23 131.96 L673.20 131.77Z M706.47 131.00 L707.87 135.03 L711.85 135.22 L708.73 137.89 L709.79 142.04 L706.47 139.66 L703.15 142.04 L704.22 137.89 L701.10 135.22 L705.08 135.03Z M717.34 140.05 L718.73 144.08 L722.71 144.27 L719.59 146.95 L720.66 151.09 L717.34 148.72 L714.02 151.09 L715.08 146.95 L711.96 144.27 L715.94 144.08Z M665.54 141.86 L666.94 145.89 L670.92 146.08 L667.80 148.76 L668.87 152.90 L665.54 150.53 L662.22 152.90 L663.29 148.76 L660.17 146.08 L664.15 145.89Z M675.32 148.38 L676.72 152.41 L680.70 152.60 L677.58 155.28 L678.64 159.42 L675.32 157.05 L672.00 159.42 L673.07 155.28 L669.95 152.60 L673.93 152.41Z M691.26 165.77 L692.65 169.80 L696.63 169.99 L693.52 172.66 L694.58 176.81 L691.26 174.43 L687.94 176.81 L689.00 172.66 L685.89 169.99 L689.87 169.80Z M716.25 160.70 L717.65 164.73 L721.62 164.91 L718.51 167.59 L719.57 171.74 L716.25 169.36 L712.93 171.74 L713.99 167.59 L710.88 164.91 L714.86 164.73Z M725.67 169.75 L727.06 173.78 L731.04 173.97 L727.92 176.65 L728.99 180.79 L725.67 178.42 L722.35 180.79 L723.41 176.65 L720.29 173.97 L724.27 173.78Z M738.71 167.22 L740.10 171.25 L744.08 171.43 L740.96 174.11 L742.03 178.26 L738.71 175.88 L735.39 178.26 L736.45 174.11 L733.33 171.43 L737.31 171.25Z M751.02 167.94 L752.42 171.97 L756.39 172.16 L753.28 174.84 L754.34 178.98 L751.02 176.61 L747.70 178.98 L748.76 174.84 L745.65 172.16 L749.63 171.97Z M677.50 175.55 L678.89 179.58 L682.87 179.76 L679.75 182.44 L680.82 186.59 L677.50 184.21 L674.18 186.59 L675.24 182.44 L672.12 179.76 L676.10 179.58Z M686.91 179.53 L688.31 183.56 L692.29 183.75 L689.17 186.43 L690.23 190.57 L686.91 188.20 L683.59 190.57 L684.66 186.43 L681.54 183.75 L685.52 183.56Z M671.70 186.41 L673.10 190.44 L677.08 190.63 L673.96 193.31 L675.02 197.45 L671.70 195.08 L668.38 197.45 L669.45 193.31 L666.33 190.63 L670.31 190.44Z M681.48 200.90 L682.88 204.93 L686.85 205.12 L683.74 207.79 L684.80 211.94 L681.48 209.57 L678.16 211.94 L679.22 207.79 L676.11 205.12 L680.09 204.93Z M695.97 196.55 L697.36 200.58 L701.34 200.77 L698.23 203.45 L699.29 207.59 L695.97 205.22 L692.65 207.59 L693.71 203.45 L690.59 200.77 L694.57 200.58Z M718.42 194.38 L719.82 198.41 L723.80 198.60 L720.68 201.28 L721.75 205.42 L718.42 203.05 L715.10 205.42 L716.17 201.28 L713.05 198.60 L717.03 198.41Z M730.38 192.21 L731.77 196.24 L735.75 196.42 L732.63 199.10 L733.70 203.25 L730.38 200.87 L727.06 203.25 L728.12 199.10 L725.00 196.42 L728.98 196.24Z M739.79 186.78 L741.19 190.80 L745.17 190.99 L742.05 193.67 L743.11 197.81 L739.79 195.44 L736.47 197.81 L737.54 193.67 L734.42 190.99 L738.40 190.80Z M734.00 87.54 L735.39 91.56 L739.37 91.75 L736.26 94.43 L737.32 98.57 L734.00 96.20 L730.68 98.57 L731.74 94.43 L728.62 91.75 L732.60 91.56Z M747.04 77.39 L748.43 81.42 L752.41 81.61 L749.29 84.29 L750.36 88.43 L747.04 86.06 L743.72 88.43 L744.78 84.29 L741.66 81.61 L745.64 81.42Z M757.18 83.91 L758.57 87.94 L762.55 88.13 L759.44 90.81 L760.50 94.95 L757.18 92.58 L753.86 94.95 L754.92 90.81 L751.80 88.13 L755.78 87.94Z M740.88 98.04 L742.27 102.07 L746.25 102.26 L743.14 104.93 L744.20 109.08 L740.88 106.70 L737.56 109.08 L738.62 104.93 L735.51 102.26 L739.48 102.07Z M753.92 102.75 L755.31 106.78 L759.29 106.96 L756.18 109.64 L757.24 113.79 L753.92 111.41 L750.60 113.79 L751.66 109.64 L748.55 106.96 L752.52 106.78Z M742.69 111.08 L744.09 115.11 L748.06 115.29 L744.95 117.97 L746.01 122.12 L742.69 119.74 L739.37 122.12 L740.43 117.97 L737.32 115.29 L741.30 115.11Z M753.56 121.94 L754.95 125.97 L758.93 126.16 L755.81 128.84 L756.88 132.98 L753.56 130.61 L750.24 132.98 L751.30 128.84 L748.18 126.16 L752.16 125.97Z M770.58 108.91 L771.97 112.93 L775.95 113.12 L772.84 115.80 L773.90 119.94 L770.58 117.57 L767.26 119.94 L768.32 115.80 L765.21 113.12 L769.18 112.93Z M767.32 127.01 L768.71 131.04 L772.69 131.23 L769.58 133.91 L770.64 138.05 L767.32 135.68 L764.00 138.05 L765.06 133.91 L761.95 131.23 L765.92 131.04Z M780.00 132.09 L781.39 136.11 L785.37 136.30 L782.25 138.98 L783.32 143.12 L780.00 140.75 L776.67 143.12 L777.74 138.98 L774.62 136.30 L778.60 136.11Z M755.73 137.88 L757.12 141.91 L761.10 142.10 L757.99 144.77 L759.05 148.92 L755.73 146.55 L752.41 148.92 L753.47 144.77 L750.36 142.10 L754.33 141.91Z M741.97 141.86 L743.36 145.89 L747.34 146.08 L744.22 148.76 L745.29 152.90 L741.97 150.53 L738.65 152.90 L739.71 148.76 L736.59 146.08 L740.57 145.89Z M790.14 142.59 L791.53 146.62 L795.51 146.81 L792.39 149.48 L793.46 153.63 L790.14 151.25 L786.82 153.63 L787.88 149.48 L784.76 146.81 L788.74 146.62Z M789.78 155.99 L791.17 160.02 L795.15 160.21 L792.03 162.88 L793.10 167.03 L789.78 164.65 L786.45 167.03 L787.52 162.88 L784.40 160.21 L788.38 160.02Z M777.82 158.89 L779.22 162.92 L783.20 163.10 L780.08 165.78 L781.14 169.93 L777.82 167.55 L774.50 169.93 L775.57 165.78 L772.45 163.10 L776.43 162.92Z M770.22 167.94 L771.61 171.97 L775.59 172.16 L772.47 174.84 L773.54 178.98 L770.22 176.61 L766.90 178.98 L767.96 174.84 L764.84 172.16 L768.82 171.97Z M777.10 181.34 L778.49 185.37 L782.47 185.56 L779.36 188.24 L780.42 192.38 L777.10 190.01 L773.78 192.38 L774.84 188.24 L771.73 185.56 L775.70 185.37Z M788.69 190.40 L790.08 194.43 L794.06 194.61 L790.95 197.29 L792.01 201.44 L788.69 199.06 L785.37 201.44 L786.43 197.29 L783.32 194.61 L787.29 194.43Z M774.56 200.54 L775.96 204.57 L779.94 204.76 L776.82 207.43 L777.88 211.58 L774.56 209.20 L771.24 211.58 L772.31 207.43 L769.19 204.76 L773.17 204.57Z M786.52 201.99 L787.91 206.02 L791.89 206.20 L788.77 208.88 L789.84 213.03 L786.52 210.65 L783.19 213.03 L784.26 208.88 L781.14 206.20 L785.12 206.02Z M781.81 81.02 L783.20 85.05 L787.18 85.23 L784.06 87.91 L785.13 92.06 L781.81 89.68 L778.49 92.06 L779.55 87.91 L776.43 85.23 L780.41 85.05Z M791.95 76.67 L793.34 80.70 L797.32 80.89 L794.21 83.56 L795.27 87.71 L791.95 85.34 L788.63 87.71 L789.69 83.56 L786.57 80.89 L790.55 80.70Z M781.44 91.88 L782.84 95.91 L786.82 96.10 L783.70 98.78 L784.77 102.92 L781.44 100.55 L778.12 102.92 L779.19 98.78 L776.07 96.10 L780.05 95.91Z M798.47 115.42 L799.86 119.45 L803.84 119.64 L800.72 122.32 L801.79 126.46 L798.47 124.09 L795.15 126.46 L796.21 122.32 L793.09 119.64 L797.07 119.45Z" fill="#5595d1" stroke="#2f6395" stroke-width="1.0" stroke-linejoin="miter" opacity="0.25"/>
<path d="M674.0 70.3L676.1 86.8" stroke="#ffc000" stroke-width="2.8" fill="none"/>
<path d="M676.9 93.0L673.2 87.2L679.0 86.5Z" fill="#ffc000"/>
<path d="M687.7 79.6L688.4 88.9" stroke="#ffc000" stroke-width="2.8" fill="none"/>
<path d="M688.9 95.1L685.5 89.1L691.3 88.7Z" fill="#ffc000"/>
<path d="M707.4 97.4L702.9 104.5" stroke="#ffc000" stroke-width="2.8" fill="none"/>
<path d="M699.6 109.8L700.5 103.0L705.4 106.1Z" fill="#ffc000"/>
<path d="M680.5 102.1L674.8 107.9" stroke="#ffc000" stroke-width="2.8" fill="none"/>
<path d="M670.4 112.3L672.7 105.8L676.9 109.9Z" fill="#ffc000"/>
<path d="M697.5 115.0L692.1 121.2" stroke="#ffc000" stroke-width="2.8" fill="none"/>
<path d="M688.0 125.8L689.9 119.3L694.3 123.1Z" fill="#ffc000"/>
<path d="M677.6 142.7L667.6 139.4" stroke="#ffc000" stroke-width="2.8" fill="none"/>
<path d="M661.7 137.5L668.5 136.7L666.7 142.2Z" fill="#ffc000"/>
<path d="M711.6 156.1L720.0 156.1" stroke="#ffc000" stroke-width="2.8" fill="none"/>
<path d="M726.2 156.1L720.0 159.0L720.0 153.2Z" fill="#ffc000"/>
<path d="M703.4 168.4L704.1 177.7" stroke="#ffc000" stroke-width="2.8" fill="none"/>
<path d="M704.6 183.9L701.2 177.9L707.0 177.5Z" fill="#ffc000"/>
<path d="M695.7 182.6L678.7 172.6" stroke="#ffc000" stroke-width="2.8" fill="none"/>
<path d="M673.4 169.4L680.2 170.1L677.3 175.1Z" fill="#ffc000"/>
<path d="M729.0 184.7L726.3 192.3" stroke="#ffc000" stroke-width="2.8" fill="none"/>
<path d="M724.2 198.1L723.6 191.3L729.0 193.3Z" fill="#ffc000"/>
<path d="M679.8 196.7L688.8 194.0" stroke="#ffc000" stroke-width="2.8" fill="none"/>
<path d="M694.7 192.2L689.6 196.7L688.0 191.2Z" fill="#ffc000"/>
<path d="M703.0 206.1L708.8 197.6" stroke="#ffc000" stroke-width="2.8" fill="none"/>
<path d="M712.3 192.5L711.2 199.2L706.5 195.9Z" fill="#ffc000"/>
<path d="M736.3 78.6L742.2 91.1" stroke="#ffc000" stroke-width="2.8" fill="none"/>
<path d="M744.8 96.8L739.6 92.4L744.8 89.9Z" fill="#ffc000"/>
<path d="M763.1 78.6L757.7 96.0" stroke="#ffc000" stroke-width="2.8" fill="none"/>
<path d="M755.9 101.9L754.9 95.2L760.5 96.9Z" fill="#ffc000"/>
<path d="M760.9 119.5L760.9 109.8" stroke="#ffc000" stroke-width="2.8" fill="none"/>
<path d="M760.9 103.6L763.8 109.8L758.0 109.8Z" fill="#ffc000"/>
<path d="M743.5 136.2L743.5 127.9" stroke="#ffc000" stroke-width="2.8" fill="none"/>
<path d="M743.5 121.7L746.4 127.9L740.6 127.9Z" fill="#ffc000"/>
<path d="M777.6 152.5L770.5 149.1" stroke="#ffc000" stroke-width="2.8" fill="none"/>
<path d="M764.9 146.5L771.8 146.5L769.3 151.7Z" fill="#ffc000"/>
<path d="M759.5 164.5L767.8 159.6" stroke="#ffc000" stroke-width="2.8" fill="none"/>
<path d="M773.1 156.4L769.2 162.1L766.3 157.1Z" fill="#ffc000"/>
<path d="M753.6 194.5L745.8 184.2" stroke="#ffc000" stroke-width="2.8" fill="none"/>
<path d="M742.1 179.2L748.1 182.4L743.5 185.9Z" fill="#ffc000"/>
<path d="M791.3 184.7L779.4 177.4" stroke="#ffc000" stroke-width="2.8" fill="none"/>
<path d="M774.1 174.2L780.9 175.0L777.9 179.9Z" fill="#ffc000"/>
<path d="M799.3 207.2L783.3 199.8" stroke="#ffc000" stroke-width="2.8" fill="none"/>
<path d="M777.6 197.2L784.5 197.1L782.0 202.4Z" fill="#ffc000"/>
<path d="M798.6 93.5L790.0 91.1" stroke="#ffc000" stroke-width="2.8" fill="none"/>
<path d="M784.1 89.4L790.8 88.3L789.2 93.9Z" fill="#ffc000"/>
<g fill="#5595d1" stroke="#2f5d8c" stroke-width="1.1" opacity="1.0"><circle cx="674.0" cy="70.3" r="4.0"/><circle cx="687.7" cy="79.6" r="4.0"/><circle cx="707.4" cy="97.4" r="4.0"/><circle cx="680.5" cy="102.1" r="4.0"/><circle cx="697.5" cy="115.0" r="4.0"/><circle cx="677.6" cy="142.7" r="4.0"/><circle cx="711.6" cy="156.1" r="4.0"/><circle cx="703.4" cy="168.4" r="4.0"/><circle cx="695.7" cy="182.6" r="4.0"/><circle cx="729.0" cy="184.7" r="4.0"/><circle cx="679.8" cy="196.7" r="4.0"/><circle cx="703.0" cy="206.1" r="4.0"/><circle cx="736.3" cy="78.6" r="4.0"/><circle cx="763.1" cy="78.6" r="4.0"/><circle cx="760.9" cy="119.5" r="4.0"/><circle cx="743.5" cy="136.2" r="4.0"/><circle cx="777.6" cy="152.5" r="4.0"/><circle cx="759.5" cy="164.5" r="4.0"/><circle cx="753.6" cy="194.5" r="4.0"/><circle cx="791.3" cy="184.7" r="4.0"/><circle cx="799.3" cy="207.2" r="4.0"/><circle cx="798.6" cy="93.5" r="4.0"/></g>
<path d="M839.83 82.83 L841.23 86.86 L845.21 87.04 L842.09 89.72 L843.15 93.87 L839.83 91.49 L836.51 93.87 L837.58 89.72 L834.46 87.04 L838.44 86.86Z M850.70 92.24 L852.09 96.27 L856.07 96.46 L852.96 99.14 L854.02 103.28 L850.70 100.91 L847.38 103.28 L848.44 99.14 L845.33 96.46 L849.30 96.27Z M840.20 101.30 L841.59 105.33 L845.57 105.52 L842.45 108.19 L843.52 112.34 L840.20 109.96 L836.87 112.34 L837.94 108.19 L834.82 105.52 L838.80 105.33Z M849.25 108.54 L850.65 112.57 L854.62 112.76 L851.51 115.44 L852.57 119.58 L849.25 117.21 L845.93 119.58 L846.99 115.44 L843.88 112.76 L847.86 112.57Z M859.39 110.72 L860.79 114.74 L864.77 114.93 L861.65 117.61 L862.71 121.75 L859.39 119.38 L856.07 121.75 L857.14 117.61 L854.02 114.93 L858.00 114.74Z M868.81 95.50 L870.20 99.53 L874.18 99.72 L871.07 102.40 L872.13 106.54 L868.81 104.17 L865.49 106.54 L866.55 102.40 L863.44 99.72 L867.41 99.53Z M876.05 79.21 L877.45 83.23 L881.43 83.42 L878.31 86.10 L879.37 90.24 L876.05 87.87 L872.73 90.24 L873.80 86.10 L870.68 83.42 L874.66 83.23Z M889.09 76.67 L890.49 80.70 L894.46 80.89 L891.35 83.56 L892.41 87.71 L889.09 85.34 L885.77 87.71 L886.83 83.56 L883.72 80.89 L887.70 80.70Z M886.56 104.56 L887.95 108.59 L891.93 108.78 L888.81 111.45 L889.88 115.60 L886.56 113.22 L883.23 115.60 L884.30 111.45 L881.18 108.78 L885.16 108.59Z M873.52 123.39 L874.91 127.42 L878.89 127.61 L875.77 130.29 L876.84 134.43 L873.52 132.06 L870.20 134.43 L871.26 130.29 L868.14 127.61 L872.12 127.42Z M850.70 127.74 L852.09 131.77 L856.07 131.96 L852.96 134.63 L854.02 138.78 L850.70 136.40 L847.38 138.78 L848.44 134.63 L845.33 131.96 L849.30 131.77Z M882.57 131.00 L883.97 135.03 L887.95 135.22 L884.83 137.89 L885.89 142.04 L882.57 139.66 L879.25 142.04 L880.32 137.89 L877.20 135.22 L881.18 135.03Z M893.44 140.05 L894.83 144.08 L898.81 144.27 L895.69 146.95 L896.76 151.09 L893.44 148.72 L890.12 151.09 L891.18 146.95 L888.06 144.27 L892.04 144.08Z M841.64 141.86 L843.04 145.89 L847.02 146.08 L843.90 148.76 L844.97 152.90 L841.64 150.53 L838.32 152.90 L839.39 148.76 L836.27 146.08 L840.25 145.89Z M851.42 148.38 L852.82 152.41 L856.80 152.60 L853.68 155.28 L854.74 159.42 L851.42 157.05 L848.10 159.42 L849.17 155.28 L846.05 152.60 L850.03 152.41Z M867.36 165.77 L868.75 169.80 L872.73 169.99 L869.62 172.66 L870.68 176.81 L867.36 174.43 L864.04 176.81 L865.10 172.66 L861.99 169.99 L865.97 169.80Z M892.35 160.70 L893.75 164.73 L897.72 164.91 L894.61 167.59 L895.67 171.74 L892.35 169.36 L889.03 171.74 L890.09 167.59 L886.98 164.91 L890.96 164.73Z M901.77 169.75 L903.16 173.78 L907.14 173.97 L904.02 176.65 L905.09 180.79 L901.77 178.42 L898.45 180.79 L899.51 176.65 L896.39 173.97 L900.37 173.78Z M914.81 167.22 L916.20 171.25 L920.18 171.43 L917.06 174.11 L918.13 178.26 L914.81 175.88 L911.49 178.26 L912.55 174.11 L909.43 171.43 L913.41 171.25Z M927.12 167.94 L928.52 171.97 L932.49 172.16 L929.38 174.84 L930.44 178.98 L927.12 176.61 L923.80 178.98 L924.86 174.84 L921.75 172.16 L925.73 171.97Z M853.60 175.55 L854.99 179.58 L858.97 179.76 L855.85 182.44 L856.92 186.59 L853.60 184.21 L850.28 186.59 L851.34 182.44 L848.22 179.76 L852.20 179.58Z M863.01 179.53 L864.41 183.56 L868.39 183.75 L865.27 186.43 L866.33 190.57 L863.01 188.20 L859.69 190.57 L860.76 186.43 L857.64 183.75 L861.62 183.56Z M847.80 186.41 L849.20 190.44 L853.18 190.63 L850.06 193.31 L851.12 197.45 L847.80 195.08 L844.48 197.45 L845.55 193.31 L842.43 190.63 L846.41 190.44Z M857.58 200.90 L858.98 204.93 L862.95 205.12 L859.84 207.79 L860.90 211.94 L857.58 209.57 L854.26 211.94 L855.32 207.79 L852.21 205.12 L856.19 204.93Z M872.07 196.55 L873.46 200.58 L877.44 200.77 L874.33 203.45 L875.39 207.59 L872.07 205.22 L868.75 207.59 L869.81 203.45 L866.69 200.77 L870.67 200.58Z M894.52 194.38 L895.92 198.41 L899.90 198.60 L896.78 201.28 L897.85 205.42 L894.52 203.05 L891.20 205.42 L892.27 201.28 L889.15 198.60 L893.13 198.41Z M906.48 192.21 L907.87 196.24 L911.85 196.42 L908.73 199.10 L909.80 203.25 L906.48 200.87 L903.16 203.25 L904.22 199.10 L901.10 196.42 L905.08 196.24Z M915.89 186.78 L917.29 190.80 L921.27 190.99 L918.15 193.67 L919.21 197.81 L915.89 195.44 L912.57 197.81 L913.64 193.67 L910.52 190.99 L914.50 190.80Z M910.10 87.54 L911.49 91.56 L915.47 91.75 L912.36 94.43 L913.42 98.57 L910.10 96.20 L906.78 98.57 L907.84 94.43 L904.72 91.75 L908.70 91.56Z M923.14 77.39 L924.53 81.42 L928.51 81.61 L925.39 84.29 L926.46 88.43 L923.14 86.06 L919.82 88.43 L920.88 84.29 L917.76 81.61 L921.74 81.42Z M933.28 83.91 L934.67 87.94 L938.65 88.13 L935.54 90.81 L936.60 94.95 L933.28 92.58 L929.96 94.95 L931.02 90.81 L927.90 88.13 L931.88 87.94Z M916.98 98.04 L918.37 102.07 L922.35 102.26 L919.24 104.93 L920.30 109.08 L916.98 106.70 L913.66 109.08 L914.72 104.93 L911.61 102.26 L915.58 102.07Z M930.02 102.75 L931.41 106.78 L935.39 106.96 L932.28 109.64 L933.34 113.79 L930.02 111.41 L926.70 113.79 L927.76 109.64 L924.65 106.96 L928.62 106.78Z M918.79 111.08 L920.19 115.11 L924.16 115.29 L921.05 117.97 L922.11 122.12 L918.79 119.74 L915.47 122.12 L916.53 117.97 L913.42 115.29 L917.40 115.11Z M929.66 121.94 L931.05 125.97 L935.03 126.16 L931.91 128.84 L932.98 132.98 L929.66 130.61 L926.34 132.98 L927.40 128.84 L924.28 126.16 L928.26 125.97Z M946.68 108.91 L948.07 112.93 L952.05 113.12 L948.94 115.80 L950.00 119.94 L946.68 117.57 L943.36 119.94 L944.42 115.80 L941.31 113.12 L945.28 112.93Z M943.42 127.01 L944.81 131.04 L948.79 131.23 L945.68 133.91 L946.74 138.05 L943.42 135.68 L940.10 138.05 L941.16 133.91 L938.05 131.23 L942.02 131.04Z M956.10 132.09 L957.49 136.11 L961.47 136.30 L958.35 138.98 L959.42 143.12 L956.10 140.75 L952.77 143.12 L953.84 138.98 L950.72 136.30 L954.70 136.11Z M931.83 137.88 L933.22 141.91 L937.20 142.10 L934.09 144.77 L935.15 148.92 L931.83 146.55 L928.51 148.92 L929.57 144.77 L926.46 142.10 L930.43 141.91Z M918.07 141.86 L919.46 145.89 L923.44 146.08 L920.32 148.76 L921.39 152.90 L918.07 150.53 L914.75 152.90 L915.81 148.76 L912.69 146.08 L916.67 145.89Z M966.24 142.59 L967.63 146.62 L971.61 146.81 L968.49 149.48 L969.56 153.63 L966.24 151.25 L962.92 153.63 L963.98 149.48 L960.86 146.81 L964.84 146.62Z M965.88 155.99 L967.27 160.02 L971.25 160.21 L968.13 162.88 L969.20 167.03 L965.88 164.65 L962.55 167.03 L963.62 162.88 L960.50 160.21 L964.48 160.02Z M953.92 158.89 L955.32 162.92 L959.30 163.10 L956.18 165.78 L957.24 169.93 L953.92 167.55 L950.60 169.93 L951.67 165.78 L948.55 163.10 L952.53 162.92Z M946.32 167.94 L947.71 171.97 L951.69 172.16 L948.57 174.84 L949.64 178.98 L946.32 176.61 L943.00 178.98 L944.06 174.84 L940.94 172.16 L944.92 171.97Z M953.20 181.34 L954.59 185.37 L958.57 185.56 L955.46 188.24 L956.52 192.38 L953.20 190.01 L949.88 192.38 L950.94 188.24 L947.83 185.56 L951.80 185.37Z M964.79 190.40 L966.18 194.43 L970.16 194.61 L967.05 197.29 L968.11 201.44 L964.79 199.06 L961.47 201.44 L962.53 197.29 L959.42 194.61 L963.39 194.43Z M950.66 200.54 L952.06 204.57 L956.04 204.76 L952.92 207.43 L953.98 211.58 L950.66 209.20 L947.34 211.58 L948.41 207.43 L945.29 204.76 L949.27 204.57Z M962.62 201.99 L964.01 206.02 L967.99 206.20 L964.87 208.88 L965.94 213.03 L962.62 210.65 L959.29 213.03 L960.36 208.88 L957.24 206.20 L961.22 206.02Z M957.91 81.02 L959.30 85.05 L963.28 85.23 L960.16 87.91 L961.23 92.06 L957.91 89.68 L954.59 92.06 L955.65 87.91 L952.53 85.23 L956.51 85.05Z M968.05 76.67 L969.44 80.70 L973.42 80.89 L970.31 83.56 L971.37 87.71 L968.05 85.34 L964.73 87.71 L965.79 83.56 L962.67 80.89 L966.65 80.70Z M957.54 91.88 L958.94 95.91 L962.92 96.10 L959.80 98.78 L960.87 102.92 L957.54 100.55 L954.22 102.92 L955.29 98.78 L952.17 96.10 L956.15 95.91Z M974.57 115.42 L975.96 119.45 L979.94 119.64 L976.82 122.32 L977.89 126.46 L974.57 124.09 L971.25 126.46 L972.31 122.32 L969.19 119.64 L973.17 119.45Z" fill="#5595d1" stroke="#2f6395" stroke-width="1.0" stroke-linejoin="miter" opacity="1.0"/>
<g fill="#5595d1" stroke="#2f6395" stroke-width="1.0" opacity="1.0"><circle cx="848.1" cy="89.8" r="4.0"/><circle cx="872.0" cy="92.7" r="4.0"/><circle cx="878.1" cy="105.1" r="4.0"/><circle cx="854.6" cy="108.7" r="4.0"/><circle cx="867.3" cy="124.2" r="4.0"/><circle cx="847.4" cy="144.2" r="4.0"/><circle cx="895.5" cy="156.1" r="4.0"/><circle cx="872.7" cy="178.2" r="4.0"/><circle cx="860.8" cy="176.8" r="4.0"/><circle cx="864.4" cy="195.2" r="4.0"/><circle cx="884.3" cy="199.6" r="4.0"/><circle cx="898.8" cy="193.4" r="4.0"/><circle cx="914.4" cy="181.1" r="4.0"/><circle cx="920.5" cy="93.5" r="4.0"/><circle cx="933.6" cy="98.2" r="4.0"/><circle cx="921.6" cy="109.8" r="4.0"/><circle cx="935.0" cy="116.3" r="4.0"/><circle cx="948.0" cy="146.0" r="4.0"/><circle cx="957.8" cy="155.0" r="4.0"/><circle cx="953.1" cy="175.7" r="4.0"/><circle cx="966.2" cy="92.0" r="4.0"/><circle cx="958.9" cy="199.9" r="4.0"/></g>
<path d="M280.5 139.1H290.4V135L298.5 143L290.4 151V146.9H280.5Z" fill="#000"/>
<path d="M457.4 139.1H467.29999999999995V135L475.4 143L467.29999999999995 151V146.9H457.4Z" fill="#000"/>
<path d="M634.7 139.1H644.6V135L652.7 143L644.6 151V146.9H634.7Z" fill="#000"/>
<path d="M811.6 139.1H821.5V135L829.6 143L821.5 151V146.9H811.6Z" fill="#000"/>
<path d="M193 51V38H471V45H201V51H205L197 59.3L189 51Z" fill="#000"/>
<path d="M611 38H911.7V56H904.3V45H611Z" fill="#000"/>
<text x="479.7" y="46.9" font-family="Liberation Sans, sans-serif" font-size="17.2" font-weight="normal" font-style="normal" text-anchor="start" fill="#000" textLength="121.2" lengthAdjust="spacingAndGlyphs">More Iterations</text>
<circle cx="77.6" cy="97.1" r="8.3" fill="#5595d1" stroke="#2f6395" stroke-width="0.9"/>
<path d="M77.05 129.80 L80.15 137.88 L89.60 138.05 L82.07 143.22 L84.81 151.40 L77.05 146.52 L69.29 151.40 L72.03 143.22 L64.50 138.05 L73.95 137.88Z" fill="#5595d1" stroke="#2f6395" stroke-width="0.9"/>
<text x="47.5" y="115.9" font-family="Liberation Sans, sans-serif" font-size="9.8" font-weight="normal" font-style="normal" text-anchor="start" fill="#000" textLength="51.5" lengthAdjust="spacingAndGlyphs">Query Term</text>
<text x="101.5" y="115.9" font-family="Liberation Serif, serif" font-size="10.5" font-weight="bold" font-style="normal" text-anchor="start" fill="#000">q</text>
<text x="50.5" y="159.9" font-family="Liberation Sans, sans-serif" font-size="9.8" font-weight="normal" font-style="normal" text-anchor="start" fill="#000" textLength="44.5" lengthAdjust="spacingAndGlyphs">Document</text>
<text x="98.3" y="159.9" font-family="Liberation Serif, serif" font-size="10.5" font-weight="bold" font-style="normal" text-anchor="start" fill="#000">D</text>
<text x="157.0" y="235.4" font-family="Liberation Sans, sans-serif" font-size="17.6" font-weight="normal" font-style="normal" text-anchor="start" fill="#000" textLength="43.2" lengthAdjust="spacingAndGlyphs">Initial</text>
<text x="204.6" y="235.4" font-family="Liberation Sans, sans-serif" font-size="17.6" font-weight="normal" font-style="normal" text-anchor="start" fill="#000" textLength="46.4" lengthAdjust="spacingAndGlyphs">Space</text>
<text x="335.7" y="226.8" font-family="Liberation Sans, sans-serif" font-size="11" font-weight="normal" font-style="normal" text-anchor="start" fill="#000" textLength="63.6" lengthAdjust="spacingAndGlyphs">Gradients of</text>
<text x="401.5" y="226.8" font-family="Liberation Serif, serif" font-size="12.8" font-weight="bold" font-style="normal" text-anchor="start" fill="#000" textLength="9.6" lengthAdjust="spacingAndGlyphs">D</text>
<text x="411.8" y="226.8" font-family="Liberation Sans, sans-serif" font-size="11" font-weight="normal" font-style="normal" text-anchor="start" fill="#000" textLength="7.0" lengthAdjust="spacingAndGlyphs">’s</text>
<text x="346.3" y="242.3" font-family="Liberation Sans, sans-serif" font-size="11" font-weight="normal" font-style="normal" text-anchor="start" fill="#000" textLength="62.3" lengthAdjust="spacingAndGlyphs">Coordinates</text>
<text x="526.8" y="233.0" font-family="Liberation Sans, sans-serif" font-size="11" font-weight="normal" font-style="normal" text-anchor="start" fill="#000" textLength="44.2" lengthAdjust="spacingAndGlyphs">Updated</text>
<text x="574.3" y="233.0" font-family="Liberation Serif, serif" font-size="12.8" font-weight="bold" font-style="normal" text-anchor="start" fill="#000" textLength="9.6" lengthAdjust="spacingAndGlyphs">D</text>
<text x="690.6" y="226.6" font-family="Liberation Sans, sans-serif" font-size="11" font-weight="normal" font-style="normal" text-anchor="start" fill="#000" textLength="63.6" lengthAdjust="spacingAndGlyphs">Gradients of</text>
<text x="756.9" y="226.6" font-family="Liberation Serif, serif" font-size="12.8" font-weight="bold" font-style="normal" text-anchor="start" fill="#000" textLength="7.0" lengthAdjust="spacingAndGlyphs">q</text>
<text x="765.1" y="226.6" font-family="Liberation Sans, sans-serif" font-size="11" font-weight="normal" font-style="normal" text-anchor="start" fill="#000" textLength="7.0" lengthAdjust="spacingAndGlyphs">’s</text>
<text x="700.1" y="242.3" font-family="Liberation Sans, sans-serif" font-size="11" font-weight="normal" font-style="normal" text-anchor="start" fill="#000" textLength="62.3" lengthAdjust="spacingAndGlyphs">Coordinates</text>
<text x="880.7" y="226.4" font-family="Liberation Sans, sans-serif" font-size="11" font-weight="normal" font-style="normal" text-anchor="start" fill="#000" textLength="44.2" lengthAdjust="spacingAndGlyphs">Updated</text>
<text x="928.4" y="226.4" font-family="Liberation Serif, serif" font-size="12.8" font-weight="bold" font-style="normal" text-anchor="start" fill="#000" textLength="7.0" lengthAdjust="spacingAndGlyphs">q</text>
</g>
<rect x="171.8" y="282.2" width="217.89999999999998" height="142.0" fill="#bdd7ee"/>
<path d="M171.50 282.0V424.5 M189.50 282.0V424.5 M208.50 282.0V424.5 M226.50 282.0V424.5 M244.50 282.0V424.5 M262.50 282.0V424.5 M280.50 282.0V424.5 M298.50 282.0V424.5 M317.50 282.0V424.5 M335.50 282.0V424.5 M353.50 282.0V424.5 M371.50 282.0V424.5 M389.50 282.0V424.5 M171.5 282.50H390.0 M171.5 299.50H390.0 M171.5 317.50H390.0 M171.5 335.50H390.0 M171.5 353.50H390.0 M171.5 370.50H390.0 M171.5 388.50H390.0 M171.5 406.50H390.0 M171.5 424.50H390.0" stroke="#22344f" stroke-width="1" fill="none"/>
<path d="M172 267V279M390 267V279M172 272.8H266.2M295 272.8H390M157.5 282.2H167.5M156 424.2H168M161.8 282.2V338.6M161.8 368.4V424.2" stroke="#666" stroke-width="0.8" fill="none"/>
<text x="280.9" y="277.2" font-family="Liberation Serif, serif" font-size="17.3" font-weight="bold" font-style="normal" text-anchor="middle" fill="#000">D</text>
<text x="161.7" y="358.4" font-family="Liberation Serif, serif" font-size="17.6" font-weight="bold" font-style="normal" text-anchor="middle" fill="#000">q</text>
<rect x="199.3" y="368" width="163.4" height="22.2" fill="#fff" fill-opacity="0.8"/>
<text x="214.3" y="384.5" font-family="Liberation Serif, serif" font-size="12.5" font-weight="bold" font-style="normal" text-anchor="start" fill="#000" textLength="19.1" lengthAdjust="spacingAndGlyphs">q-D</text>
<text x="238.4" y="384.5" font-family="Liberation Sans, sans-serif" font-size="11" font-weight="normal" font-style="normal" text-anchor="start" fill="#000" textLength="109.4" lengthAdjust="spacingAndGlyphs">pairwise relationship</text>
<path d="M278 428.5H286V439H290.4L282.2 448.4L274 439H278Z" fill="#000"/>
<rect x="172.2" y="453.2" width="217.40000000000003" height="17.0" fill="#ffc000"/>
<path d="M172.2 453.2H389.6V470.2H172.2Z M190.32 453.2V470.2 M208.43 453.2V470.2 M226.55 453.2V470.2 M244.67 453.2V470.2 M262.78 453.2V470.2 M280.90 453.2V470.2 M299.02 453.2V470.2 M317.13 453.2V470.2 M335.25 453.2V470.2 M353.37 453.2V470.2 M371.48 453.2V470.2" stroke="#6b5200" stroke-width="0.9" fill="none"/>
<text x="209.3" y="485.6" font-family="Liberation Sans, sans-serif" font-size="11" font-weight="normal" font-style="normal" text-anchor="start" fill="#000" textLength="63.5" lengthAdjust="spacingAndGlyphs">Gradients of</text>
<text x="277.2" y="485.6" font-family="Liberation Serif, serif" font-size="14" font-weight="bold" font-style="normal" text-anchor="start" fill="#000" textLength="10.6" lengthAdjust="spacingAndGlyphs">D</text>
<text x="288.9" y="485.6" font-family="Liberation Sans, sans-serif" font-size="11" font-weight="normal" font-style="normal" text-anchor="start" fill="#000" textLength="6.5" lengthAdjust="spacingAndGlyphs">’s</text>
<text x="298.3" y="485.6" font-family="Liberation Sans, sans-serif" font-size="11" font-weight="normal" font-style="normal" text-anchor="start" fill="#000" textLength="62.9" lengthAdjust="spacingAndGlyphs">Coordinates</text>
<rect x="450.8" y="283.2" width="18.899999999999977" height="141.40000000000003" fill="#ffc000"/>
<path d="M450.8 283.2H469.7V424.6H450.8Z M450.8 300.88H469.7 M450.8 318.55H469.7 M450.8 336.23H469.7 M450.8 353.90H469.7 M450.8 371.58H469.7 M450.8 389.25H469.7 M450.8 406.93H469.7" stroke="#6b5200" stroke-width="0.9" fill="none"/>
<path d="M407.2 353.8H425.3V349.8L433.7 357.8L425.3 365.8V361.8H407.2Z" fill="#000"/>
<text x="419.7" y="447.5" font-family="Liberation Sans, sans-serif" font-size="11" font-weight="normal" font-style="normal" text-anchor="start" fill="#000" textLength="64.5" lengthAdjust="spacingAndGlyphs">Gradients of</text>
<text x="486.9" y="447.5" font-family="Liberation Serif, serif" font-size="12.8" font-weight="bold" font-style="normal" text-anchor="start" fill="#000" textLength="7.2" lengthAdjust="spacingAndGlyphs">q</text>
<text x="495.4" y="447.5" font-family="Liberation Sans, sans-serif" font-size="11" font-weight="normal" font-style="normal" text-anchor="start" fill="#000" textLength="6.8" lengthAdjust="spacingAndGlyphs">’s</text>
<text x="429.9" y="463.3" font-family="Liberation Sans, sans-serif" font-size="11" font-weight="normal" font-style="normal" text-anchor="start" fill="#000" textLength="62.5" lengthAdjust="spacingAndGlyphs">Coordinates</text>
<g filter="url(#sb)">
<text x="533.7" y="273.6" font-family="Liberation Serif, serif" font-size="16.5" font-weight="normal" font-style="normal" text-anchor="start" fill="#000" textLength="9.5" lengthAdjust="spacingAndGlyphs">∂</text>
<text x="543.7" y="273.6" font-family="Liberation Serif, serif" font-size="16.5" font-weight="normal" font-style="normal" text-anchor="start" fill="#000" textLength="13.9" lengthAdjust="spacingAndGlyphs">Ψ</text>
<text x="559.2" y="276.4" font-family="Liberation Serif, serif" font-size="12.2" font-weight="normal" font-style="italic" text-anchor="start" fill="#000" textLength="7.3" lengthAdjust="spacingAndGlyphs">x</text>
<text x="567.0" y="278.8" font-family="Liberation Serif, serif" font-size="9.5" font-weight="normal" font-style="italic" text-anchor="start" fill="#000">q</text>
<text x="572.0" y="276.4" font-family="Liberation Serif, serif" font-size="12.2" font-weight="normal" font-style="normal" text-anchor="start" fill="#000">,</text>
<text x="575.5" y="276.4" font-family="Liberation Serif, serif" font-size="12.2" font-weight="normal" font-style="italic" text-anchor="start" fill="#000" textLength="7.3" lengthAdjust="spacingAndGlyphs">x</text>
<text x="583.3" y="278.8" font-family="Liberation Serif, serif" font-size="9.5" font-weight="normal" font-style="italic" text-anchor="start" fill="#000" textLength="6.5" lengthAdjust="spacingAndGlyphs">D</text>
<path d="M533 283.6H591.7M725.3 283.6H860.5M877.5 283.6H970.6" stroke="#222" stroke-width="0.9"/>
<text x="543.3" y="300.7" font-family="Liberation Serif, serif" font-size="16.5" font-weight="normal" font-style="normal" text-anchor="start" fill="#000" textLength="9.0" lengthAdjust="spacingAndGlyphs">∂</text>
<text x="553.3" y="300.7" font-family="Liberation Serif, serif" font-size="16.5" font-weight="normal" font-style="italic" text-anchor="start" fill="#000" textLength="9.0" lengthAdjust="spacingAndGlyphs">x</text>
<text x="563.6" y="303.0" font-family="Liberation Serif, serif" font-size="12.2" font-weight="normal" font-style="italic" text-anchor="start" fill="#000" textLength="9.0" lengthAdjust="spacingAndGlyphs">D</text>
<text x="573.5" y="303.0" font-family="Liberation Serif, serif" font-size="12.2" font-weight="normal" font-style="normal" text-anchor="start" fill="#000">,</text>
<text x="579.0" y="303.0" font-family="Liberation Serif, serif" font-size="12.2" font-weight="normal" font-style="italic" text-anchor="start" fill="#000" textLength="5.0" lengthAdjust="spacingAndGlyphs">i</text>
<text x="598.9" y="288.5" font-family="Liberation Serif, serif" font-size="16.5" font-weight="normal" font-style="normal" text-anchor="start" fill="#000" textLength="12.7" lengthAdjust="spacingAndGlyphs">=</text>
<text x="615.4" y="290.3" font-family="Liberation Serif, serif" font-size="26" font-weight="normal" font-style="normal" text-anchor="start" fill="#000" textLength="18.5" lengthAdjust="spacingAndGlyphs">∑</text>
<text x="620.6" y="305.2" font-family="Liberation Serif, serif" font-size="12.5" font-weight="normal" font-style="italic" text-anchor="start" fill="#000">q</text>
<path d="M646.5 261.5H640.3V304.6H646.5" stroke="#222" stroke-width="1.1" fill="none"/>
<path d="M862.9 261.5H868.0V304.6H862.9" stroke="#222" stroke-width="1.1" fill="none"/>
<text x="646.5" y="286.8" font-family="Liberation Serif, serif" font-size="16.5" font-weight="normal" font-style="normal" text-anchor="start" fill="#000" textLength="12.8" lengthAdjust="spacingAndGlyphs">N</text>
<text x="660.0" y="286.8" font-family="Liberation Serif, serif" font-size="16.5" font-weight="normal" font-style="normal" text-anchor="start" fill="#000" textLength="5.0" lengthAdjust="spacingAndGlyphs">(</text>
<text x="665.5" y="286.8" font-family="Liberation Serif, serif" font-size="16.5" font-weight="normal" font-style="italic" text-anchor="start" fill="#000">q</text>
<text x="674.5" y="286.8" font-family="Liberation Serif, serif" font-size="16.5" font-weight="normal" font-style="normal" text-anchor="start" fill="#000">,</text>
<text x="683.2" y="286.8" font-family="Liberation Serif, serif" font-size="16.5" font-weight="normal" font-style="italic" text-anchor="start" fill="#000" textLength="12.7" lengthAdjust="spacingAndGlyphs">D</text>
<text x="697.0" y="286.8" font-family="Liberation Serif, serif" font-size="16.5" font-weight="normal" font-style="normal" text-anchor="start" fill="#000" textLength="5.0" lengthAdjust="spacingAndGlyphs">)</text>
<text x="707.0" y="288.5" font-family="Liberation Serif, serif" font-size="16.5" font-weight="normal" font-style="normal" text-anchor="start" fill="#000" textLength="11.0" lengthAdjust="spacingAndGlyphs">−</text>
<text x="726.1" y="276.4" font-family="Liberation Serif, serif" font-size="16.5" font-weight="normal" font-style="normal" text-anchor="start" fill="#000" textLength="12.0" lengthAdjust="spacingAndGlyphs">N</text>
<text x="738.8" y="279.4" font-family="Liberation Serif, serif" font-size="12.2" font-weight="normal" font-style="italic" text-anchor="start" fill="#000">t</text>
<text x="744.8" y="276.4" font-family="Liberation Serif, serif" font-size="16.5" font-weight="normal" font-style="normal" text-anchor="start" fill="#000" textLength="5.0" lengthAdjust="spacingAndGlyphs">(</text>
<text x="749.9" y="276.4" font-family="Liberation Serif, serif" font-size="16.5" font-weight="normal" font-style="italic" text-anchor="start" fill="#000" textLength="13.5" lengthAdjust="spacingAndGlyphs">D</text>
<text x="764.2" y="276.4" font-family="Liberation Serif, serif" font-size="16.5" font-weight="normal" font-style="normal" text-anchor="start" fill="#000" textLength="5.0" lengthAdjust="spacingAndGlyphs">)</text>
<text x="772.0" y="276.4" font-family="Liberation Serif, serif" font-size="18" font-weight="normal" font-style="italic" text-anchor="start" fill="#000" textLength="6.4" lengthAdjust="spacingAndGlyphs">f</text>
<text x="783.8" y="276.4" font-family="Liberation Serif, serif" font-size="16.5" font-weight="normal" font-style="normal" text-anchor="start" fill="#000" textLength="5.0" lengthAdjust="spacingAndGlyphs">(</text>
<text x="789.6" y="276.4" font-family="Liberation Serif, serif" font-size="16.5" font-weight="normal" font-style="italic" text-anchor="start" fill="#000">q</text>
<text x="799.5" y="276.4" font-family="Liberation Serif, serif" font-size="16.5" font-weight="normal" font-style="normal" text-anchor="start" fill="#000">,</text>
<text x="805.5" y="276.4" font-family="Liberation Serif, serif" font-size="16.5" font-weight="normal" font-style="italic" text-anchor="start" fill="#000" textLength="14.3" lengthAdjust="spacingAndGlyphs">D</text>
<text x="820.4" y="276.4" font-family="Liberation Serif, serif" font-size="16.5" font-weight="normal" font-style="normal" text-anchor="start" fill="#000" textLength="5.0" lengthAdjust="spacingAndGlyphs">)</text>
<text x="825.5" y="276.4" font-family="Liberation Serif, serif" font-size="16.5" font-weight="normal" font-style="normal" text-anchor="start" fill="#000" textLength="11.0" lengthAdjust="spacingAndGlyphs">P</text>
<text x="838.0" y="276.4" font-family="Liberation Serif, serif" font-size="16.5" font-weight="normal" font-style="normal" text-anchor="start" fill="#000" textLength="5.0" lengthAdjust="spacingAndGlyphs">(</text>
<text x="843.8" y="276.4" font-family="Liberation Serif, serif" font-size="16.5" font-weight="normal" font-style="italic" text-anchor="start" fill="#000">q</text>
<text x="854.0" y="276.4" font-family="Liberation Serif, serif" font-size="16.5" font-weight="normal" font-style="normal" text-anchor="start" fill="#000" textLength="5.0" lengthAdjust="spacingAndGlyphs">)</text>
<text x="765.8" y="300.3" font-family="Liberation Serif, serif" font-size="16.5" font-weight="normal" font-style="normal" text-anchor="start" fill="#000" textLength="13.5" lengthAdjust="spacingAndGlyphs">Λ</text>
<text x="778.5" y="305.5" font-family="Liberation Serif, serif" font-size="9" font-weight="normal" font-style="normal" text-anchor="start" fill="#000" textLength="12.5" lengthAdjust="spacingAndGlyphs">3,2</text>
<text x="793.0" y="300.3" font-family="Liberation Serif, serif" font-size="16.5" font-weight="normal" font-style="normal" text-anchor="start" fill="#000" textLength="5.0" lengthAdjust="spacingAndGlyphs">(</text>
<text x="799.2" y="300.3" font-family="Liberation Serif, serif" font-size="16.5" font-weight="normal" font-style="italic" text-anchor="start" fill="#000" textLength="14.3" lengthAdjust="spacingAndGlyphs">D</text>
<text x="814.7" y="300.3" font-family="Liberation Serif, serif" font-size="16.5" font-weight="normal" font-style="normal" text-anchor="start" fill="#000" textLength="5.0" lengthAdjust="spacingAndGlyphs">)</text>
<text x="878.8" y="276.4" font-family="Liberation Serif, serif" font-size="16.5" font-weight="normal" font-style="normal" text-anchor="start" fill="#000" textLength="9.0" lengthAdjust="spacingAndGlyphs">∂</text>
<text x="890.7" y="276.4" font-family="Liberation Serif, serif" font-size="16.5" font-weight="normal" font-style="normal" text-anchor="start" fill="#000" textLength="21.5" lengthAdjust="spacingAndGlyphs">log</text>
<text x="915.6" y="276.4" font-family="Liberation Serif, serif" font-size="18" font-weight="normal" font-style="italic" text-anchor="start" fill="#000" textLength="6.4" lengthAdjust="spacingAndGlyphs">f</text>
<text x="927.5" y="276.4" font-family="Liberation Serif, serif" font-size="16.5" font-weight="normal" font-style="normal" text-anchor="start" fill="#000" textLength="5.0" lengthAdjust="spacingAndGlyphs">(</text>
<text x="934.1" y="276.4" font-family="Liberation Serif, serif" font-size="16.5" font-weight="normal" font-style="italic" text-anchor="start" fill="#000">q</text>
<text x="944.0" y="276.4" font-family="Liberation Serif, serif" font-size="16.5" font-weight="normal" font-style="normal" text-anchor="start" fill="#000">,</text>
<text x="950.0" y="276.4" font-family="Liberation Serif, serif" font-size="16.5" font-weight="normal" font-style="italic" text-anchor="start" fill="#000" textLength="13.8" lengthAdjust="spacingAndGlyphs">D</text>
<text x="964.9" y="276.4" font-family="Liberation Serif, serif" font-size="16.5" font-weight="normal" font-style="normal" text-anchor="start" fill="#000" textLength="5.0" lengthAdjust="spacingAndGlyphs">)</text>
<text x="905.0" y="300.3" font-family="Liberation Serif, serif" font-size="16.5" font-weight="normal" font-style="normal" text-anchor="start" fill="#000" textLength="9.5" lengthAdjust="spacingAndGlyphs">∂</text>
<text x="915.0" y="300.3" font-family="Liberation Serif, serif" font-size="16.5" font-weight="normal" font-style="italic" text-anchor="start" fill="#000" textLength="9.0" lengthAdjust="spacingAndGlyphs">x</text>
<text x="924.9" y="302.8" font-family="Liberation Serif, serif" font-size="12.2" font-weight="normal" font-style="italic" text-anchor="start" fill="#000" textLength="8.7" lengthAdjust="spacingAndGlyphs">D</text>
<text x="934.5" y="302.8" font-family="Liberation Serif, serif" font-size="12.2" font-weight="normal" font-style="normal" text-anchor="start" fill="#000">,</text>
<text x="938.4" y="302.8" font-family="Liberation Serif, serif" font-size="12.2" font-weight="normal" font-style="italic" text-anchor="start" fill="#000" textLength="4.7" lengthAdjust="spacingAndGlyphs">i</text>
<text x="533.6" y="334.9" font-family="Liberation Sans, sans-serif" font-size="18.8" font-weight="normal" font-style="normal" text-anchor="start" fill="#000" textLength="194.0" lengthAdjust="spacingAndGlyphs">Gradient Computation</text>
<text x="734.0" y="335.0" font-family="Liberation Serif, serif" font-size="19" font-weight="bold" font-style="normal" text-anchor="start" fill="#000" textLength="35.5" lengthAdjust="spacingAndGlyphs">O(q</text>
<text x="775.5" y="335.0" font-family="Liberation Sans, sans-serif" font-size="20" font-weight="normal" font-style="normal" text-anchor="start" fill="#000">×</text>
<text x="793.1" y="335.0" font-family="Liberation Serif, serif" font-size="19" font-weight="bold" font-style="normal" text-anchor="start" fill="#000" textLength="21.4" lengthAdjust="spacingAndGlyphs">D)</text>
<text x="821.8" y="335.0" font-family="Liberation Sans, sans-serif" font-size="18.8" font-weight="normal" font-style="normal" text-anchor="start" fill="#000" textLength="151.5" lengthAdjust="spacingAndGlyphs">is partitioned and</text>
<text x="533.6" y="360.2" font-family="Liberation Sans, sans-serif" font-size="18.8" font-weight="normal" font-style="normal" text-anchor="start" fill="#000" textLength="336.0" lengthAdjust="spacingAndGlyphs">executed in 300k GPU cores in parallel.</text>
<rect x="535.7" y="387.4" width="438.6" height="73.4" fill="#fff" stroke="#7f7f7f" stroke-width="1"/>
<text x="558.4" y="412.4" font-family="Liberation Sans, sans-serif" font-size="18.8" font-weight="normal" font-style="normal" text-anchor="start" fill="#000" textLength="122.7" lengthAdjust="spacingAndGlyphs">A typical case:</text>
<text x="687.8" y="412.1" font-family="Liberation Serif, serif" font-size="19" font-weight="bold" font-style="normal" text-anchor="start" fill="#000" textLength="61.0" lengthAdjust="spacingAndGlyphs">|q| = 10</text>
<text x="749.2" y="404.9" font-family="Liberation Serif, serif" font-size="11.5" font-weight="bold" font-style="normal" text-anchor="start" fill="#000">9</text>
<text x="759.5" y="412.1" font-family="Liberation Serif, serif" font-size="19" font-weight="bold" font-style="normal" text-anchor="start" fill="#000">,</text>
<text x="768.8" y="412.1" font-family="Liberation Serif, serif" font-size="19" font-weight="bold" font-style="normal" text-anchor="start" fill="#000" textLength="63.0" lengthAdjust="spacingAndGlyphs">|D| = 10</text>
<text x="832.2" y="404.9" font-family="Liberation Serif, serif" font-size="11.5" font-weight="bold" font-style="normal" text-anchor="start" fill="#000">10</text>
<rect x="557.8" y="428.8" width="19" height="18.8" fill="#5595d1" stroke="#41719c" stroke-width="0.9"/>
<text x="587.4" y="446.0" font-family="Liberation Serif, serif" font-size="19" font-weight="bold" font-style="normal" text-anchor="start" fill="#000" textLength="45.0" lengthAdjust="spacingAndGlyphs">= 64k</text>
<text x="638.5" y="446.0" font-family="Liberation Sans, sans-serif" font-size="20" font-weight="normal" font-style="normal" text-anchor="start" fill="#000">×</text>
<text x="655.0" y="446.0" font-family="Liberation Serif, serif" font-size="19" font-weight="bold" font-style="normal" text-anchor="start" fill="#000" textLength="29.8" lengthAdjust="spacingAndGlyphs">64k</text>
<text x="702.5" y="445.3" font-family="Liberation Sans, sans-serif" font-size="18.8" font-weight="normal" font-style="normal" text-anchor="start" fill="#000" textLength="243.2" lengthAdjust="spacingAndGlyphs">Handled by one GPU (3k cores)</text>
</g>
</svg>
</body></html>
